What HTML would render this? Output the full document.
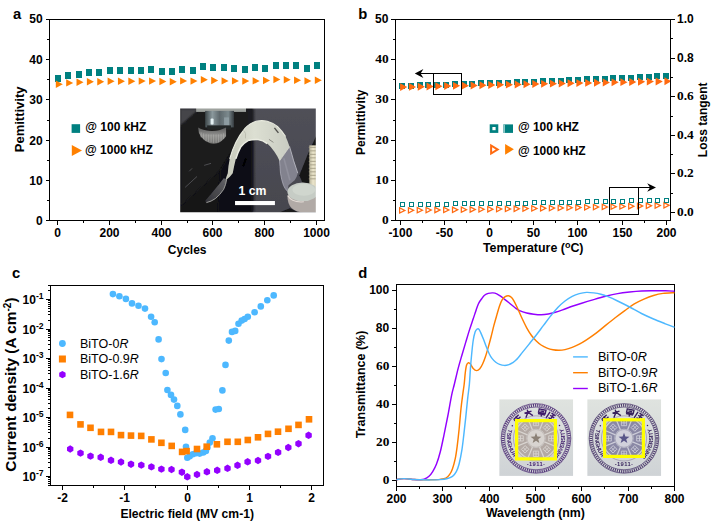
<!DOCTYPE html>
<html><head><meta charset="utf-8"><title>figure</title>
<style>
html,body{margin:0;padding:0;background:#fff;}
body{width:711px;height:531px;overflow:hidden;}
svg{display:block;}
text{font-family:"Liberation Sans",sans-serif;}
</style></head><body>
<svg width="711" height="531" viewBox="0 0 711 531">
<rect x="0" y="0" width="711" height="531" fill="#fff"/>
<rect x="49" y="19" width="276" height="1" fill="#000" shape-rendering="crispEdges"/>
<rect x="49" y="220" width="276" height="1" fill="#000" shape-rendering="crispEdges"/>
<rect x="49" y="19" width="1" height="202" fill="#000" shape-rendering="crispEdges"/>
<rect x="324" y="19" width="1" height="202" fill="#000" shape-rendering="crispEdges"/>
<rect x="46" y="220" width="3" height="1" fill="#000" shape-rendering="crispEdges"/>
<text x="42.70" y="224.70" font-size="12" text-anchor="end" font-weight="bold" fill="#000" >0</text>
<rect x="47" y="200" width="2" height="1" fill="#000" shape-rendering="crispEdges"/>
<rect x="46" y="180" width="3" height="1" fill="#000" shape-rendering="crispEdges"/>
<text x="42.70" y="184.70" font-size="12" text-anchor="end" font-weight="bold" fill="#000" >10</text>
<rect x="47" y="160" width="2" height="1" fill="#000" shape-rendering="crispEdges"/>
<rect x="46" y="140" width="3" height="1" fill="#000" shape-rendering="crispEdges"/>
<text x="42.70" y="144.70" font-size="12" text-anchor="end" font-weight="bold" fill="#000" >20</text>
<rect x="47" y="120" width="2" height="1" fill="#000" shape-rendering="crispEdges"/>
<rect x="46" y="99" width="3" height="1" fill="#000" shape-rendering="crispEdges"/>
<text x="42.70" y="103.70" font-size="12" text-anchor="end" font-weight="bold" fill="#000" >30</text>
<rect x="47" y="79" width="2" height="1" fill="#000" shape-rendering="crispEdges"/>
<rect x="46" y="59" width="3" height="1" fill="#000" shape-rendering="crispEdges"/>
<text x="42.70" y="63.70" font-size="12" text-anchor="end" font-weight="bold" fill="#000" >40</text>
<rect x="47" y="39" width="2" height="1" fill="#000" shape-rendering="crispEdges"/>
<rect x="46" y="19" width="3" height="1" fill="#000" shape-rendering="crispEdges"/>
<text x="42.70" y="22.80" font-size="12" text-anchor="end" font-weight="bold" fill="#000" >50</text>
<rect x="57" y="221" width="1" height="4" fill="#000" shape-rendering="crispEdges"/>
<text x="57.50" y="236.70" font-size="12" text-anchor="middle" font-weight="bold" fill="#000" >0</text>
<rect x="83" y="221" width="1" height="2" fill="#000" shape-rendering="crispEdges"/>
<rect x="109" y="221" width="1" height="4" fill="#000" shape-rendering="crispEdges"/>
<text x="109.50" y="236.70" font-size="12" text-anchor="middle" font-weight="bold" fill="#000" >200</text>
<rect x="135" y="221" width="1" height="2" fill="#000" shape-rendering="crispEdges"/>
<rect x="161" y="221" width="1" height="4" fill="#000" shape-rendering="crispEdges"/>
<text x="161.50" y="236.70" font-size="12" text-anchor="middle" font-weight="bold" fill="#000" >400</text>
<rect x="187" y="221" width="1" height="2" fill="#000" shape-rendering="crispEdges"/>
<rect x="212" y="221" width="1" height="4" fill="#000" shape-rendering="crispEdges"/>
<text x="212.50" y="236.70" font-size="12" text-anchor="middle" font-weight="bold" fill="#000" >600</text>
<rect x="238" y="221" width="1" height="2" fill="#000" shape-rendering="crispEdges"/>
<rect x="264" y="221" width="1" height="4" fill="#000" shape-rendering="crispEdges"/>
<text x="264.50" y="236.70" font-size="12" text-anchor="middle" font-weight="bold" fill="#000" >800</text>
<rect x="290" y="221" width="1" height="2" fill="#000" shape-rendering="crispEdges"/>
<rect x="316" y="221" width="1" height="4" fill="#000" shape-rendering="crispEdges"/>
<text x="316.50" y="236.70" font-size="12" text-anchor="middle" font-weight="bold" fill="#000" >1000</text>
<text x="187.20" y="253.50" font-size="12" text-anchor="middle" font-weight="bold" fill="#000" >Cycles</text>
<text transform="translate(24.30,119.40) rotate(-90)" font-size="13.0" text-anchor="middle" font-weight="bold">Pemittivity</text>
<text x="13.00" y="19.10" font-size="14.8" text-anchor="start" font-weight="bold" fill="#000" >a</text>
<rect x="55" y="75" width="6" height="7" fill="#008080" shape-rendering="crispEdges"/>
<rect x="65" y="72" width="6" height="7" fill="#008080" shape-rendering="crispEdges"/>
<rect x="76" y="71" width="6" height="7" fill="#008080" shape-rendering="crispEdges"/>
<rect x="86" y="69" width="6" height="7" fill="#008080" shape-rendering="crispEdges"/>
<rect x="96" y="69" width="6" height="7" fill="#008080" shape-rendering="crispEdges"/>
<rect x="107" y="67" width="6" height="7" fill="#008080" shape-rendering="crispEdges"/>
<rect x="117" y="67" width="6" height="7" fill="#008080" shape-rendering="crispEdges"/>
<rect x="128" y="67" width="6" height="7" fill="#008080" shape-rendering="crispEdges"/>
<rect x="138" y="67" width="6" height="7" fill="#008080" shape-rendering="crispEdges"/>
<rect x="148" y="66" width="6" height="7" fill="#008080" shape-rendering="crispEdges"/>
<rect x="159" y="68" width="6" height="7" fill="#008080" shape-rendering="crispEdges"/>
<rect x="169" y="68" width="6" height="7" fill="#008080" shape-rendering="crispEdges"/>
<rect x="179" y="66" width="6" height="7" fill="#008080" shape-rendering="crispEdges"/>
<rect x="190" y="67" width="6" height="7" fill="#008080" shape-rendering="crispEdges"/>
<rect x="200" y="63" width="6" height="7" fill="#008080" shape-rendering="crispEdges"/>
<rect x="210" y="64" width="6" height="7" fill="#008080" shape-rendering="crispEdges"/>
<rect x="221" y="64" width="6" height="7" fill="#008080" shape-rendering="crispEdges"/>
<rect x="231" y="65" width="6" height="7" fill="#008080" shape-rendering="crispEdges"/>
<rect x="242" y="66" width="6" height="7" fill="#008080" shape-rendering="crispEdges"/>
<rect x="252" y="64" width="6" height="7" fill="#008080" shape-rendering="crispEdges"/>
<rect x="262" y="65" width="6" height="7" fill="#008080" shape-rendering="crispEdges"/>
<rect x="273" y="62" width="6" height="7" fill="#008080" shape-rendering="crispEdges"/>
<rect x="283" y="62" width="6" height="7" fill="#008080" shape-rendering="crispEdges"/>
<rect x="293" y="62" width="6" height="7" fill="#008080" shape-rendering="crispEdges"/>
<rect x="304" y="65" width="6" height="7" fill="#008080" shape-rendering="crispEdges"/>
<rect x="314" y="62" width="6" height="7" fill="#008080" shape-rendering="crispEdges"/>
<path d="M55.80,80.50 L62.80,84.20 L55.80,87.90 Z" fill="#FF8000"/>
<path d="M66.16,79.20 L73.16,82.90 L66.16,86.60 Z" fill="#FF8000"/>
<path d="M76.52,78.60 L83.52,82.30 L76.52,86.00 Z" fill="#FF8000"/>
<path d="M86.88,78.00 L93.88,81.70 L86.88,85.40 Z" fill="#FF8000"/>
<path d="M97.24,78.00 L104.24,81.70 L97.24,85.40 Z" fill="#FF8000"/>
<path d="M107.60,77.60 L114.60,81.30 L107.60,85.00 Z" fill="#FF8000"/>
<path d="M117.96,77.60 L124.96,81.30 L117.96,85.00 Z" fill="#FF8000"/>
<path d="M128.32,77.60 L135.32,81.30 L128.32,85.00 Z" fill="#FF8000"/>
<path d="M138.68,77.40 L145.68,81.10 L138.68,84.80 Z" fill="#FF8000"/>
<path d="M149.04,77.40 L156.04,81.10 L149.04,84.80 Z" fill="#FF8000"/>
<path d="M159.40,77.80 L166.40,81.50 L159.40,85.20 Z" fill="#FF8000"/>
<path d="M169.76,78.00 L176.76,81.70 L169.76,85.40 Z" fill="#FF8000"/>
<path d="M180.12,77.20 L187.12,80.90 L180.12,84.60 Z" fill="#FF8000"/>
<path d="M190.48,77.40 L197.48,81.10 L190.48,84.80 Z" fill="#FF8000"/>
<path d="M200.84,76.00 L207.84,79.70 L200.84,83.40 Z" fill="#FF8000"/>
<path d="M211.20,76.80 L218.20,80.50 L211.20,84.20 Z" fill="#FF8000"/>
<path d="M221.56,77.20 L228.56,80.90 L221.56,84.60 Z" fill="#FF8000"/>
<path d="M231.92,77.20 L238.92,80.90 L231.92,84.60 Z" fill="#FF8000"/>
<path d="M242.28,77.40 L249.28,81.10 L242.28,84.80 Z" fill="#FF8000"/>
<path d="M252.64,77.20 L259.64,80.90 L252.64,84.60 Z" fill="#FF8000"/>
<path d="M263.00,76.80 L270.00,80.50 L263.00,84.20 Z" fill="#FF8000"/>
<path d="M273.36,75.80 L280.36,79.50 L273.36,83.20 Z" fill="#FF8000"/>
<path d="M283.72,76.00 L290.72,79.70 L283.72,83.40 Z" fill="#FF8000"/>
<path d="M294.08,76.60 L301.08,80.30 L294.08,84.00 Z" fill="#FF8000"/>
<path d="M304.44,77.20 L311.44,80.90 L304.44,84.60 Z" fill="#FF8000"/>
<path d="M314.80,76.60 L321.80,80.30 L314.80,84.00 Z" fill="#FF8000"/>
<rect x="71.6" y="124.2" width="8.5" height="8.7" fill="#008080"/>
<text x="85.30" y="130.70" font-size="12" text-anchor="start" font-weight="bold" fill="#000" >@ 100 kHZ</text>
<path d="M71.80,145.10 L82.00,150.55 L71.80,156.00 Z" fill="#FF8000"/>
<text x="85.00" y="153.90" font-size="12" text-anchor="start" font-weight="bold" fill="#000" >@ 1000 kHZ</text>
<svg x="180.2" y="108.4" width="135.6" height="103.9" viewBox="0 0 136 104" preserveAspectRatio="none">
<defs>
<filter id="b1" x="-20%" y="-20%" width="140%" height="140%"><feGaussianBlur stdDeviation="1"/></filter>
<filter id="b2" x="-20%" y="-20%" width="140%" height="140%"><feGaussianBlur stdDeviation="2.2"/></filter>
<filter id="bG" x="-5%" y="-5%" width="110%" height="110%"><feGaussianBlur stdDeviation="0.45"/></filter>
<filter id="b05" x="-20%" y="-20%" width="140%" height="140%"><feGaussianBlur stdDeviation="0.55"/></filter>
<linearGradient id="gR" x1="0" y1="0" x2="0" y2="1"><stop offset="0" stop-color="#505058"/><stop offset="1" stop-color="#46464e"/></linearGradient>
<linearGradient id="gFilm" x1="0" y1="0" x2="1" y2="0"><stop offset="0" stop-color="#c6c8ba"/><stop offset="0.45" stop-color="#dcdfd2"/><stop offset="1" stop-color="#c9ccc2"/></linearGradient>
<linearGradient id="gScrew" x1="0" y1="0" x2="1" y2="0"><stop offset="0" stop-color="#b8b49c"/><stop offset="0.5" stop-color="#ece6cc"/><stop offset="1" stop-color="#cfc9b0"/></linearGradient>
<linearGradient id="gNut" x1="0" y1="0" x2="1" y2="0"><stop offset="0" stop-color="#3c4448"/><stop offset="0.25" stop-color="#8b999d"/><stop offset="0.5" stop-color="#5e686c"/><stop offset="0.8" stop-color="#7c8a8e"/><stop offset="1" stop-color="#33393c"/></linearGradient>
<linearGradient id="gKnob" x1="0" y1="0" x2="0" y2="1"><stop offset="0" stop-color="#5c5c5c"/><stop offset="0.5" stop-color="#929290"/><stop offset="1" stop-color="#727270"/></linearGradient>
<linearGradient id="gTail" x1="1" y1="0" x2="0" y2="1"><stop offset="0" stop-color="#6c6c70"/><stop offset="1" stop-color="#333338"/></linearGradient>
<clipPath id="cpA"><rect x="0" y="0" width="136" height="104"/></clipPath>
</defs>
<g clip-path="url(#cpA)">
<g filter="url(#bG)">
<rect x="-3" y="-3" width="142" height="110" fill="#161618"/>
<!-- right grey wall -->
<rect x="72.500" y="-3" width="67" height="110" fill="url(#gR)"/>
<rect x="66" y="0" width="8" height="104" fill="#1e1e22" filter="url(#b1)"/>
<!-- upper-left lighter wedge -->
<path d="M0,0 L20,0 L0,18 Z" fill="#44444a" filter="url(#b1)"/>
<!-- black block faces -->
<path d="M0,18 L22,0 L66,0 L66,20 L40,62 L0,98 Z" fill="#1b1b1e" filter="url(#b1)"/>
<path d="M40,62 L66,20 L72,20 L72,104 L38,104 Z" fill="#101012" filter="url(#b1)"/>
<!-- scratches -->
<path d="M5,79 L17,68 M24,57 L31,55 M9,63 L12,60" stroke="#5a5a5e" stroke-width="0.8" filter="url(#b05)"/>
<path d="M63,58 L66,50" stroke="#000" stroke-width="2.2" filter="url(#b05)"/>
<!-- nut + knob upper-left -->
<g filter="url(#b05)">
<rect x="16" y="-1" width="50" height="4.5" fill="#9ea29e"/>
<rect x="25" y="2.500" width="29" height="16.500" fill="url(#gNut)"/>
<rect x="30.5" y="10" width="3" height="6" rx="1" fill="#e4f0f2"/>
<rect x="44" y="9" width="5" height="8" fill="#93a3a7" opacity="0.8"/>
<rect x="27" y="17" width="24" height="4" fill="#222628"/>
<path d="M18,19 Q18,30 30,35 Q40,37 46,28 L46,19 Q38,23 31,22.500 Q22,22 18,19 Z" fill="url(#gKnob)"/>
<path d="M21,24 v5 M23.5,25 v6 M26,25.5 v7 M28.5,26 v7.5 M31,26 v8 M33.5,26 v8.5 M36,26 v8.5 M38.500,26 v8 M41,25.500 v7 M43.500,25 v5.5" stroke="#b4b4b0" stroke-width="0.8" opacity="0.7"/>
</g>
<!-- right dark corner + screw + washer -->
<path d="M137,26 L128,46 L119.500,67 L124,78 L137,78 Z" fill="#151517" filter="url(#b05)"/>
<g filter="url(#b05)">
<rect x="129.500" y="37" width="7.500" height="44" fill="url(#gScrew)"/>
<path d="M129,39 h8 M129,42.500 h8 M129,46 h8 M129,49.500 h8 M129,53 h8 M129,56.500 h8 M129,60 h8 M129,63.500 h8 M129,67 h8 M129,70.500 h8" stroke="#a49e86" stroke-width="0.9"/>
</g>
<!-- translucent right leg -->
<g filter="url(#b05)">
<path d="M109.700,38.300 Q112,46 113.800,52.500 Q116,59 117.900,64.800 Q117,69 114.800,71.900 L108.700,77 L107.700,83.100 Q105,80.500 103.600,77 Q101.500,71 100.600,64.800 Q100.200,58 99.600,52.500 Z" fill="#82828e"/>
<path d="M109.700,38.300 Q112,46 113.800,52.500 Q116,59 117.900,64.800" fill="none" stroke="#b8b8c2" stroke-width="0.9"/>
<path d="M99.600,52.500 Q100.200,58 100.600,64.800 Q101.500,71 103.600,77 Q105,80.500 107.700,83.100" fill="none" stroke="#aaaab6" stroke-width="0.8"/>
<path d="M104,50 L110,72" stroke="#9a9aa6" stroke-width="1.6" opacity="0.6"/>
</g>
<g filter="url(#b05)">
<path d="M107.500,87 Q107.500,104 124,104 L137,104 L137,86 Z" fill="#b1aaa6"/>
<ellipse cx="123" cy="83.500" rx="15.500" ry="9.300" fill="#c6ccc5"/>
<ellipse cx="124" cy="81.500" rx="11.500" ry="6" fill="#d0d6ce"/>
<path d="M108,87.500 Q112,94.500 124,93.500" fill="none" stroke="#e6dfd9" stroke-width="1.1"/>
<path d="M100,104 L110,100 L118,104 Z" fill="#1a1a1c"/>
</g>
<!-- translucent lower-left tail -->
<g filter="url(#b05)">
<path d="M46.600,70.900 Q46,76 43.600,81 Q40,86.500 35.400,90.200 Q31,93.300 26.300,94.300 Q24.800,93.500 25.300,92.200 Q31,86 36.500,79 Q40.500,74 43.600,69.800 Z" fill="url(#gTail)" opacity="0.92"/>
<path d="M46.600,70.900 Q46,76 43.600,81 Q40,86.500 35.400,90.200 Q31,93.300 26.300,94.300" fill="none" stroke="#a9a9a7" stroke-width="0.9"/>
</g>
<!-- film arch : opaque band -->
<g filter="url(#b05)">
<path d="M45.600,70.900 Q46.500,67.500 47.700,64.800 Q48.300,57 49.700,50.500 Q52,42 55.800,34.200 Q59.500,26.500 65,20 Q70,14.800 76.100,12.900 Q82,11.600 87.300,12.900 Q93,14.600 97.500,18 Q102,22.500 105.700,28.100 Q108,33 109.700,38.300 L99.600,52.500 Q97.500,47.500 94.500,43.400 Q91.500,38.800 87.300,35.200 Q83,32 78.200,31.200 Q73,30.800 68,32.200 Q64,34.500 60.900,38.300 Q57.800,44 55.800,50.500 Q54,58 52.700,64.800 Q50,68.500 46.600,71.200 Z" fill="url(#gFilm)"/>
<path d="M49.700,50.500 Q52,42 55.800,34.200 Q59.500,26.500 65,20 Q70,14.800 76.100,12.900 Q82,11.600 87.300,12.900 Q93,14.600 97.500,18 Q102,22.500 105.700,28.100" fill="none" stroke="#e8eade" stroke-width="1.2"/>
<path d="M55.800,50.500 Q57.800,44 60.900,38.300 Q64,34.500 68,32.200 Q73,30.800 78.200,31.200 Q83,32 87.300,35.200" fill="none" stroke="#eaece1" stroke-width="1.5"/>
<path d="M94.500,19.500 L98.500,24.500" stroke="#50504c" stroke-width="1.4"/>
<path d="M89,31 L93.500,34" stroke="#8f8f87" stroke-width="1"/>
<path d="M63.500,22 Q66.500,24 65.500,30" stroke="#b6b8aa" stroke-width="0.8" fill="none"/>
<path d="M99.600,52.500 L109.700,38.300" stroke="#d9dbd0" stroke-width="0.8"/>
</g>
</g>
<!-- scale bar -->
<rect x="55" y="92.700" width="40" height="4.100" fill="#fff"/>
<text x="72.500" y="86.300" font-size="12.300" font-weight="bold" fill="#fff" text-anchor="middle">1 cm</text>
</g>
</svg>
<rect x="395" y="19" width="276" height="1" fill="#000" shape-rendering="crispEdges"/>
<rect x="395" y="220" width="276" height="1" fill="#000" shape-rendering="crispEdges"/>
<rect x="395" y="19" width="1" height="202" fill="#000" shape-rendering="crispEdges"/>
<rect x="670" y="19" width="1" height="202" fill="#000" shape-rendering="crispEdges"/>
<rect x="391" y="220" width="4" height="1" fill="#000" shape-rendering="crispEdges"/>
<text x="388.60" y="224.00" font-size="13.4" text-anchor="end" font-weight="bold" style="font-family:'Liberation Serif',serif">0</text>
<rect x="393" y="200" width="2" height="1" fill="#000" shape-rendering="crispEdges"/>
<rect x="391" y="180" width="4" height="1" fill="#000" shape-rendering="crispEdges"/>
<text x="388.60" y="184.00" font-size="13.4" text-anchor="end" font-weight="bold" style="font-family:'Liberation Serif',serif">10</text>
<rect x="393" y="160" width="2" height="1" fill="#000" shape-rendering="crispEdges"/>
<rect x="391" y="140" width="4" height="1" fill="#000" shape-rendering="crispEdges"/>
<text x="388.60" y="144.00" font-size="13.4" text-anchor="end" font-weight="bold" style="font-family:'Liberation Serif',serif">20</text>
<rect x="393" y="120" width="2" height="1" fill="#000" shape-rendering="crispEdges"/>
<rect x="391" y="99" width="4" height="1" fill="#000" shape-rendering="crispEdges"/>
<text x="388.60" y="103.00" font-size="13.4" text-anchor="end" font-weight="bold" style="font-family:'Liberation Serif',serif">30</text>
<rect x="393" y="79" width="2" height="1" fill="#000" shape-rendering="crispEdges"/>
<rect x="391" y="59" width="4" height="1" fill="#000" shape-rendering="crispEdges"/>
<text x="388.60" y="63.00" font-size="13.4" text-anchor="end" font-weight="bold" style="font-family:'Liberation Serif',serif">40</text>
<rect x="393" y="39" width="2" height="1" fill="#000" shape-rendering="crispEdges"/>
<rect x="391" y="19" width="4" height="1" fill="#000" shape-rendering="crispEdges"/>
<text x="388.40" y="22.80" font-size="12" text-anchor="end" font-weight="bold" fill="#000" >50</text>
<rect x="671" y="212" width="4" height="1" fill="#000" shape-rendering="crispEdges"/>
<text x="677.00" y="216.00" font-size="13.4" text-anchor="start" font-weight="bold" style="font-family:'Liberation Serif',serif">0.0</text>
<rect x="671" y="193" width="2" height="1" fill="#000" shape-rendering="crispEdges"/>
<rect x="671" y="173" width="4" height="1" fill="#000" shape-rendering="crispEdges"/>
<text x="677.00" y="177.00" font-size="13.4" text-anchor="start" font-weight="bold" style="font-family:'Liberation Serif',serif">0.2</text>
<rect x="671" y="154" width="2" height="1" fill="#000" shape-rendering="crispEdges"/>
<rect x="671" y="135" width="4" height="1" fill="#000" shape-rendering="crispEdges"/>
<text x="677.00" y="139.00" font-size="13.4" text-anchor="start" font-weight="bold" style="font-family:'Liberation Serif',serif">0.4</text>
<rect x="671" y="116" width="2" height="1" fill="#000" shape-rendering="crispEdges"/>
<rect x="671" y="96" width="4" height="1" fill="#000" shape-rendering="crispEdges"/>
<text x="677.00" y="100.00" font-size="13.4" text-anchor="start" font-weight="bold" style="font-family:'Liberation Serif',serif">0.6</text>
<rect x="671" y="77" width="2" height="1" fill="#000" shape-rendering="crispEdges"/>
<rect x="671" y="58" width="4" height="1" fill="#000" shape-rendering="crispEdges"/>
<text x="677.00" y="61.80" font-size="12" text-anchor="start" font-weight="bold" fill="#000" >0.8</text>
<rect x="671" y="38" width="2" height="1" fill="#000" shape-rendering="crispEdges"/>
<rect x="671" y="19" width="4" height="1" fill="#000" shape-rendering="crispEdges"/>
<text x="677.00" y="22.80" font-size="12" text-anchor="start" font-weight="bold" fill="#000" >1.0</text>
<rect x="400" y="221" width="1" height="4" fill="#000" shape-rendering="crispEdges"/>
<text x="400.40" y="236.70" font-size="12" text-anchor="middle" font-weight="bold" fill="#000" >-100</text>
<rect x="422" y="221" width="1" height="2" fill="#000" shape-rendering="crispEdges"/>
<rect x="444" y="221" width="1" height="4" fill="#000" shape-rendering="crispEdges"/>
<text x="444.40" y="236.70" font-size="12" text-anchor="middle" font-weight="bold" fill="#000" >-50</text>
<rect x="466" y="221" width="1" height="2" fill="#000" shape-rendering="crispEdges"/>
<rect x="489" y="221" width="1" height="4" fill="#000" shape-rendering="crispEdges"/>
<text x="489.50" y="236.70" font-size="12" text-anchor="middle" font-weight="bold" fill="#000" >0</text>
<rect x="511" y="221" width="1" height="2" fill="#000" shape-rendering="crispEdges"/>
<rect x="533" y="221" width="1" height="4" fill="#000" shape-rendering="crispEdges"/>
<text x="533.50" y="236.70" font-size="12" text-anchor="middle" font-weight="bold" fill="#000" >50</text>
<rect x="555" y="221" width="1" height="2" fill="#000" shape-rendering="crispEdges"/>
<rect x="577" y="221" width="1" height="4" fill="#000" shape-rendering="crispEdges"/>
<text x="577.50" y="236.70" font-size="12" text-anchor="middle" font-weight="bold" fill="#000" >100</text>
<rect x="599" y="221" width="1" height="2" fill="#000" shape-rendering="crispEdges"/>
<rect x="622" y="221" width="1" height="4" fill="#000" shape-rendering="crispEdges"/>
<text x="622.50" y="236.70" font-size="12" text-anchor="middle" font-weight="bold" fill="#000" >150</text>
<rect x="644" y="221" width="1" height="2" fill="#000" shape-rendering="crispEdges"/>
<rect x="666" y="221" width="1" height="4" fill="#000" shape-rendering="crispEdges"/>
<text x="666.50" y="236.70" font-size="12" text-anchor="middle" font-weight="bold" fill="#000" >200</text>
<text x="533.2" y="251.7" font-size="12.45" text-anchor="middle" font-weight="bold">Temperature (<tspan font-size="9" dy="-4.2">o</tspan><tspan dy="4.2">C)</tspan></text>
<text transform="translate(365.00,122.30) rotate(-90)" font-size="12" text-anchor="middle" font-weight="bold">Permittivity</text>
<text transform="translate(707.00,119.80) rotate(-90)" font-size="12" text-anchor="middle" font-weight="bold">Loss tangent</text>
<text x="358.20" y="19.10" font-size="14.8" text-anchor="start" font-weight="bold" fill="#000" >b</text>
<clipPath id="cpB"><rect x="396" y="20" width="274" height="200"/></clipPath><g clip-path="url(#cpB)">
<path d="M399.00,206.75 L406.20,210.40 L399.00,214.05 Z" fill="#FF6A10"/>
<path d="M400.25,208.79 L403.44,210.40 L400.25,212.01 Z" fill="#fff"/>
<rect x="400" y="202" width="5" height="5" fill="#008080" shape-rendering="crispEdges"/>
<rect x="401" y="203" width="3" height="3" fill="#fff" shape-rendering="crispEdges"/>
<path d="M407.81,206.66 L415.01,210.31 L407.81,213.96 Z" fill="#FF6A10"/>
<path d="M409.06,208.69 L412.25,210.31 L409.06,211.92 Z" fill="#fff"/>
<rect x="409" y="202" width="5" height="5" fill="#008080" shape-rendering="crispEdges"/>
<rect x="410" y="203" width="3" height="3" fill="#fff" shape-rendering="crispEdges"/>
<path d="M416.62,206.56 L423.82,210.21 L416.62,213.86 Z" fill="#FF6A10"/>
<path d="M417.87,208.59 L421.06,210.21 L417.87,211.82 Z" fill="#fff"/>
<rect x="418" y="202" width="5" height="5" fill="#008080" shape-rendering="crispEdges"/>
<rect x="419" y="203" width="3" height="3" fill="#fff" shape-rendering="crispEdges"/>
<path d="M425.43,206.46 L432.63,210.11 L425.43,213.76 Z" fill="#FF6A10"/>
<path d="M426.68,208.49 L429.87,210.11 L426.68,211.72 Z" fill="#fff"/>
<rect x="426" y="202" width="5" height="5" fill="#008080" shape-rendering="crispEdges"/>
<rect x="427" y="203" width="3" height="3" fill="#fff" shape-rendering="crispEdges"/>
<path d="M434.24,206.35 L441.44,210.00 L434.24,213.65 Z" fill="#FF6A10"/>
<path d="M435.49,208.38 L438.68,210.00 L435.49,211.61 Z" fill="#fff"/>
<rect x="435" y="202" width="5" height="5" fill="#008080" shape-rendering="crispEdges"/>
<rect x="436" y="203" width="3" height="3" fill="#fff" shape-rendering="crispEdges"/>
<path d="M443.05,206.23 L450.25,209.88 L443.05,213.53 Z" fill="#FF6A10"/>
<path d="M444.30,208.27 L447.49,209.88 L444.30,211.50 Z" fill="#fff"/>
<rect x="444" y="202" width="5" height="5" fill="#008080" shape-rendering="crispEdges"/>
<rect x="445" y="203" width="3" height="3" fill="#fff" shape-rendering="crispEdges"/>
<path d="M451.86,206.11 L459.06,209.76 L451.86,213.41 Z" fill="#FF6A10"/>
<path d="M453.11,208.15 L456.30,209.76 L453.11,211.38 Z" fill="#fff"/>
<rect x="453" y="201" width="5" height="5" fill="#008080" shape-rendering="crispEdges"/>
<rect x="454" y="202" width="3" height="3" fill="#fff" shape-rendering="crispEdges"/>
<path d="M460.67,205.99 L467.87,209.64 L460.67,213.29 Z" fill="#FF6A10"/>
<path d="M461.92,208.02 L465.11,209.64 L461.92,211.25 Z" fill="#fff"/>
<rect x="462" y="201" width="5" height="5" fill="#008080" shape-rendering="crispEdges"/>
<rect x="463" y="202" width="3" height="3" fill="#fff" shape-rendering="crispEdges"/>
<path d="M469.48,205.86 L476.68,209.51 L469.48,213.16 Z" fill="#FF6A10"/>
<path d="M470.73,207.89 L473.92,209.51 L470.73,211.12 Z" fill="#fff"/>
<rect x="470" y="201" width="5" height="5" fill="#008080" shape-rendering="crispEdges"/>
<rect x="471" y="202" width="3" height="3" fill="#fff" shape-rendering="crispEdges"/>
<path d="M478.29,205.72 L485.49,209.37 L478.29,213.02 Z" fill="#FF6A10"/>
<path d="M479.54,207.76 L482.73,209.37 L479.54,210.99 Z" fill="#fff"/>
<rect x="479" y="201" width="5" height="5" fill="#008080" shape-rendering="crispEdges"/>
<rect x="480" y="202" width="3" height="3" fill="#fff" shape-rendering="crispEdges"/>
<path d="M487.10,205.58 L494.30,209.23 L487.10,212.88 Z" fill="#FF6A10"/>
<path d="M488.35,207.62 L491.54,209.23 L488.35,210.84 Z" fill="#fff"/>
<rect x="488" y="201" width="5" height="5" fill="#008080" shape-rendering="crispEdges"/>
<rect x="489" y="202" width="3" height="3" fill="#fff" shape-rendering="crispEdges"/>
<path d="M495.91,205.43 L503.11,209.08 L495.91,212.73 Z" fill="#FF6A10"/>
<path d="M497.16,207.47 L500.35,209.08 L497.16,210.70 Z" fill="#fff"/>
<rect x="497" y="201" width="5" height="5" fill="#008080" shape-rendering="crispEdges"/>
<rect x="498" y="202" width="3" height="3" fill="#fff" shape-rendering="crispEdges"/>
<path d="M504.72,205.28 L511.92,208.93 L504.72,212.58 Z" fill="#FF6A10"/>
<path d="M505.97,207.32 L509.16,208.93 L505.97,210.55 Z" fill="#fff"/>
<rect x="506" y="201" width="5" height="5" fill="#008080" shape-rendering="crispEdges"/>
<rect x="507" y="202" width="3" height="3" fill="#fff" shape-rendering="crispEdges"/>
<path d="M513.53,205.12 L520.73,208.77 L513.53,212.42 Z" fill="#FF6A10"/>
<path d="M514.78,207.16 L517.97,208.77 L514.78,210.39 Z" fill="#fff"/>
<rect x="515" y="201" width="5" height="5" fill="#008080" shape-rendering="crispEdges"/>
<rect x="516" y="202" width="3" height="3" fill="#fff" shape-rendering="crispEdges"/>
<path d="M522.34,204.96 L529.54,208.61 L522.34,212.26 Z" fill="#FF6A10"/>
<path d="M523.59,207.00 L526.78,208.61 L523.59,210.23 Z" fill="#fff"/>
<rect x="523" y="201" width="5" height="5" fill="#008080" shape-rendering="crispEdges"/>
<rect x="524" y="202" width="3" height="3" fill="#fff" shape-rendering="crispEdges"/>
<path d="M531.15,204.79 L538.35,208.44 L531.15,212.09 Z" fill="#FF6A10"/>
<path d="M532.40,206.83 L535.59,208.44 L532.40,210.06 Z" fill="#fff"/>
<rect x="532" y="200" width="5" height="5" fill="#008080" shape-rendering="crispEdges"/>
<rect x="533" y="201" width="3" height="3" fill="#fff" shape-rendering="crispEdges"/>
<path d="M539.96,204.62 L547.16,208.27 L539.96,211.92 Z" fill="#FF6A10"/>
<path d="M541.21,206.65 L544.40,208.27 L541.21,209.88 Z" fill="#fff"/>
<rect x="541" y="200" width="5" height="5" fill="#008080" shape-rendering="crispEdges"/>
<rect x="542" y="201" width="3" height="3" fill="#fff" shape-rendering="crispEdges"/>
<path d="M548.77,204.44 L555.97,208.09 L548.77,211.74 Z" fill="#FF6A10"/>
<path d="M550.02,206.47 L553.21,208.09 L550.02,209.70 Z" fill="#fff"/>
<rect x="550" y="200" width="5" height="5" fill="#008080" shape-rendering="crispEdges"/>
<rect x="551" y="201" width="3" height="3" fill="#fff" shape-rendering="crispEdges"/>
<path d="M557.58,204.26 L564.78,207.91 L557.58,211.56 Z" fill="#FF6A10"/>
<path d="M558.83,206.29 L562.02,207.91 L558.83,209.52 Z" fill="#fff"/>
<rect x="559" y="200" width="5" height="5" fill="#008080" shape-rendering="crispEdges"/>
<rect x="560" y="201" width="3" height="3" fill="#fff" shape-rendering="crispEdges"/>
<path d="M566.39,204.07 L573.59,207.72 L566.39,211.37 Z" fill="#FF6A10"/>
<path d="M567.64,206.10 L570.83,207.72 L567.64,209.33 Z" fill="#fff"/>
<rect x="567" y="200" width="5" height="5" fill="#008080" shape-rendering="crispEdges"/>
<rect x="568" y="201" width="3" height="3" fill="#fff" shape-rendering="crispEdges"/>
<path d="M575.20,203.87 L582.40,207.52 L575.20,211.17 Z" fill="#FF6A10"/>
<path d="M576.45,205.91 L579.64,207.52 L576.45,209.13 Z" fill="#fff"/>
<rect x="576" y="200" width="5" height="5" fill="#008080" shape-rendering="crispEdges"/>
<rect x="577" y="201" width="3" height="3" fill="#fff" shape-rendering="crispEdges"/>
<path d="M584.01,203.67 L591.21,207.32 L584.01,210.97 Z" fill="#FF6A10"/>
<path d="M585.26,205.70 L588.45,207.32 L585.26,208.93 Z" fill="#fff"/>
<rect x="585" y="199" width="5" height="5" fill="#008080" shape-rendering="crispEdges"/>
<rect x="586" y="200" width="3" height="3" fill="#fff" shape-rendering="crispEdges"/>
<path d="M592.82,203.46 L600.02,207.11 L592.82,210.76 Z" fill="#FF6A10"/>
<path d="M594.07,205.50 L597.26,207.11 L594.07,208.73 Z" fill="#fff"/>
<rect x="594" y="199" width="5" height="5" fill="#008080" shape-rendering="crispEdges"/>
<rect x="595" y="200" width="3" height="3" fill="#fff" shape-rendering="crispEdges"/>
<path d="M601.63,203.25 L608.83,206.90 L601.63,210.55 Z" fill="#FF6A10"/>
<path d="M602.88,205.29 L606.07,206.90 L602.88,208.52 Z" fill="#fff"/>
<rect x="603" y="199" width="5" height="5" fill="#008080" shape-rendering="crispEdges"/>
<rect x="604" y="200" width="3" height="3" fill="#fff" shape-rendering="crispEdges"/>
<path d="M610.44,203.03 L617.64,206.68 L610.44,210.33 Z" fill="#FF6A10"/>
<path d="M611.69,205.07 L614.88,206.68 L611.69,208.30 Z" fill="#fff"/>
<rect x="611" y="199" width="5" height="5" fill="#008080" shape-rendering="crispEdges"/>
<rect x="612" y="200" width="3" height="3" fill="#fff" shape-rendering="crispEdges"/>
<path d="M619.25,202.81 L626.45,206.46 L619.25,210.11 Z" fill="#FF6A10"/>
<path d="M620.50,204.85 L623.69,206.46 L620.50,208.08 Z" fill="#fff"/>
<rect x="620" y="199" width="5" height="5" fill="#008080" shape-rendering="crispEdges"/>
<rect x="621" y="200" width="3" height="3" fill="#fff" shape-rendering="crispEdges"/>
<path d="M628.06,202.58 L635.26,206.23 L628.06,209.88 Z" fill="#FF6A10"/>
<path d="M629.31,204.62 L632.50,206.23 L629.31,207.85 Z" fill="#fff"/>
<rect x="629" y="198" width="5" height="5" fill="#008080" shape-rendering="crispEdges"/>
<rect x="630" y="199" width="3" height="3" fill="#fff" shape-rendering="crispEdges"/>
<path d="M636.87,202.35 L644.07,206.00 L636.87,209.65 Z" fill="#FF6A10"/>
<path d="M638.12,204.39 L641.31,206.00 L638.12,207.62 Z" fill="#fff"/>
<rect x="638" y="198" width="5" height="5" fill="#008080" shape-rendering="crispEdges"/>
<rect x="639" y="199" width="3" height="3" fill="#fff" shape-rendering="crispEdges"/>
<path d="M645.68,202.11 L652.88,205.76 L645.68,209.41 Z" fill="#FF6A10"/>
<path d="M646.93,204.15 L650.12,205.76 L646.93,207.38 Z" fill="#fff"/>
<rect x="647" y="198" width="5" height="5" fill="#008080" shape-rendering="crispEdges"/>
<rect x="648" y="199" width="3" height="3" fill="#fff" shape-rendering="crispEdges"/>
<path d="M654.49,201.87 L661.69,205.52 L654.49,209.17 Z" fill="#FF6A10"/>
<path d="M655.74,203.90 L658.93,205.52 L655.74,207.13 Z" fill="#fff"/>
<rect x="655" y="198" width="5" height="5" fill="#008080" shape-rendering="crispEdges"/>
<rect x="656" y="199" width="3" height="3" fill="#fff" shape-rendering="crispEdges"/>
<path d="M663.30,201.62 L670.50,205.27 L663.30,208.92 Z" fill="#FF6A10"/>
<path d="M664.55,203.66 L667.74,205.27 L664.55,206.88 Z" fill="#fff"/>
<rect x="664" y="198" width="5" height="5" fill="#008080" shape-rendering="crispEdges"/>
<rect x="665" y="199" width="3" height="3" fill="#fff" shape-rendering="crispEdges"/>
<rect x="399" y="83" width="6" height="6" fill="#008080" shape-rendering="crispEdges"/>
<rect x="408" y="83" width="6" height="6" fill="#008080" shape-rendering="crispEdges"/>
<rect x="417" y="82" width="6" height="6" fill="#008080" shape-rendering="crispEdges"/>
<rect x="425" y="82" width="6" height="6" fill="#008080" shape-rendering="crispEdges"/>
<rect x="434" y="82" width="6" height="6" fill="#008080" shape-rendering="crispEdges"/>
<rect x="443" y="82" width="6" height="6" fill="#008080" shape-rendering="crispEdges"/>
<rect x="452" y="81" width="6" height="6" fill="#008080" shape-rendering="crispEdges"/>
<rect x="461" y="81" width="6" height="6" fill="#008080" shape-rendering="crispEdges"/>
<rect x="469" y="81" width="6" height="6" fill="#008080" shape-rendering="crispEdges"/>
<rect x="478" y="80" width="6" height="6" fill="#008080" shape-rendering="crispEdges"/>
<rect x="487" y="80" width="6" height="6" fill="#008080" shape-rendering="crispEdges"/>
<rect x="496" y="80" width="6" height="6" fill="#008080" shape-rendering="crispEdges"/>
<rect x="505" y="80" width="6" height="6" fill="#008080" shape-rendering="crispEdges"/>
<rect x="514" y="79" width="6" height="6" fill="#008080" shape-rendering="crispEdges"/>
<rect x="522" y="79" width="6" height="6" fill="#008080" shape-rendering="crispEdges"/>
<rect x="531" y="79" width="6" height="6" fill="#008080" shape-rendering="crispEdges"/>
<rect x="540" y="78" width="6" height="6" fill="#008080" shape-rendering="crispEdges"/>
<rect x="549" y="78" width="6" height="6" fill="#008080" shape-rendering="crispEdges"/>
<rect x="558" y="78" width="6" height="6" fill="#008080" shape-rendering="crispEdges"/>
<rect x="566" y="77" width="6" height="6" fill="#008080" shape-rendering="crispEdges"/>
<rect x="575" y="77" width="6" height="6" fill="#008080" shape-rendering="crispEdges"/>
<rect x="584" y="76" width="6" height="6" fill="#008080" shape-rendering="crispEdges"/>
<rect x="593" y="76" width="6" height="6" fill="#008080" shape-rendering="crispEdges"/>
<rect x="602" y="76" width="6" height="6" fill="#008080" shape-rendering="crispEdges"/>
<rect x="610" y="75" width="6" height="6" fill="#008080" shape-rendering="crispEdges"/>
<rect x="619" y="75" width="6" height="6" fill="#008080" shape-rendering="crispEdges"/>
<rect x="628" y="75" width="6" height="6" fill="#008080" shape-rendering="crispEdges"/>
<rect x="637" y="74" width="6" height="6" fill="#008080" shape-rendering="crispEdges"/>
<rect x="646" y="74" width="6" height="6" fill="#008080" shape-rendering="crispEdges"/>
<rect x="654" y="73" width="6" height="6" fill="#008080" shape-rendering="crispEdges"/>
<rect x="663" y="73" width="6" height="6" fill="#008080" shape-rendering="crispEdges"/>
<path d="M400.15,83.15 L407.25,87.10 L400.15,91.05 Z" fill="#FF6A10"/>
<path d="M408.96,82.94 L416.06,86.89 L408.96,90.84 Z" fill="#FF6A10"/>
<path d="M417.77,82.73 L424.87,86.68 L417.77,90.63 Z" fill="#FF6A10"/>
<path d="M426.58,82.52 L433.68,86.47 L426.58,90.42 Z" fill="#FF6A10"/>
<path d="M435.39,82.32 L442.49,86.27 L435.39,90.22 Z" fill="#FF6A10"/>
<path d="M444.20,82.11 L451.30,86.06 L444.20,90.01 Z" fill="#FF6A10"/>
<path d="M453.01,81.91 L460.11,85.86 L453.01,89.81 Z" fill="#FF6A10"/>
<path d="M461.82,81.70 L468.92,85.65 L461.82,89.60 Z" fill="#FF6A10"/>
<path d="M470.63,81.50 L477.73,85.45 L470.63,89.40 Z" fill="#FF6A10"/>
<path d="M479.44,81.30 L486.54,85.25 L479.44,89.20 Z" fill="#FF6A10"/>
<path d="M488.25,81.10 L495.35,85.05 L488.25,89.00 Z" fill="#FF6A10"/>
<path d="M497.06,80.90 L504.16,84.85 L497.06,88.80 Z" fill="#FF6A10"/>
<path d="M505.87,80.70 L512.97,84.65 L505.87,88.60 Z" fill="#FF6A10"/>
<path d="M514.68,80.50 L521.78,84.45 L514.68,88.40 Z" fill="#FF6A10"/>
<path d="M523.49,80.31 L530.59,84.26 L523.49,88.21 Z" fill="#FF6A10"/>
<path d="M532.30,80.11 L539.40,84.06 L532.30,88.01 Z" fill="#FF6A10"/>
<path d="M541.11,79.92 L548.21,83.87 L541.11,87.82 Z" fill="#FF6A10"/>
<path d="M549.92,79.72 L557.02,83.67 L549.92,87.62 Z" fill="#FF6A10"/>
<path d="M558.73,79.53 L565.83,83.48 L558.73,87.43 Z" fill="#FF6A10"/>
<path d="M567.54,79.34 L574.64,83.29 L567.54,87.24 Z" fill="#FF6A10"/>
<path d="M576.35,79.15 L583.45,83.10 L576.35,87.05 Z" fill="#FF6A10"/>
<path d="M585.16,78.96 L592.26,82.91 L585.16,86.86 Z" fill="#FF6A10"/>
<path d="M593.97,78.77 L601.07,82.72 L593.97,86.67 Z" fill="#FF6A10"/>
<path d="M602.78,78.58 L609.88,82.53 L602.78,86.48 Z" fill="#FF6A10"/>
<path d="M611.59,78.40 L618.69,82.35 L611.59,86.30 Z" fill="#FF6A10"/>
<path d="M620.40,78.21 L627.50,82.16 L620.40,86.11 Z" fill="#FF6A10"/>
<path d="M629.21,78.03 L636.31,81.98 L629.21,85.93 Z" fill="#FF6A10"/>
<path d="M638.02,77.84 L645.12,81.79 L638.02,85.74 Z" fill="#FF6A10"/>
<path d="M646.83,77.66 L653.93,81.61 L646.83,85.56 Z" fill="#FF6A10"/>
<path d="M655.64,77.48 L662.74,81.43 L655.64,85.38 Z" fill="#FF6A10"/>
<path d="M664.45,77.30 L671.55,81.25 L664.45,85.20 Z" fill="#FF6A10"/>
</g>
<rect x="433" y="73" width="29" height="1" fill="#000" shape-rendering="crispEdges"/>
<rect x="433" y="94" width="29" height="1" fill="#000" shape-rendering="crispEdges"/>
<rect x="433" y="73" width="1" height="22" fill="#000" shape-rendering="crispEdges"/>
<rect x="461" y="73" width="1" height="22" fill="#000" shape-rendering="crispEdges"/>
<rect x="419" y="73" width="14" height="1" fill="#000" shape-rendering="crispEdges"/>
<path d="M414.8,73.5 L423.4,69.1 L420.6,73.5 L423.4,77.9 Z" fill="#000"/>
<rect x="609" y="187" width="30" height="1" fill="#000" shape-rendering="crispEdges"/>
<rect x="609" y="214" width="30" height="1" fill="#000" shape-rendering="crispEdges"/>
<rect x="609" y="187" width="1" height="28" fill="#000" shape-rendering="crispEdges"/>
<rect x="638" y="187" width="1" height="28" fill="#000" shape-rendering="crispEdges"/>
<rect x="639" y="187" width="12" height="1" fill="#000" shape-rendering="crispEdges"/>
<path d="M656.0,187.5 L647.2,183.3 L650.0,187.5 L647.2,191.7 Z" fill="#000"/>
<rect x="489.70" y="124.30" width="8.6" height="8.6" fill="#008080"/>
<rect x="492.40" y="127.00" width="3.20" height="3.20" fill="#fff"/>
<rect x="503.4" y="124.4" width="9.6" height="8.5" fill="#008080"/>
<rect x="503.4" y="124.4" width="1.6" height="8.5" fill="#8cc7c7"/>
<text x="517.90" y="130.60" font-size="12" text-anchor="start" font-weight="bold" fill="#000" >@ 100 kHZ</text>
<path d="M490.10,143.80 L499.60,149.55 L490.10,155.30 Z" fill="#FF6A10"/>
<path d="M492.10,147.35 L495.74,149.55 L492.10,151.75 Z" fill="#fff"/>
<path d="M505.10,143.90 L513.90,149.30 L505.10,154.70 Z" fill="#FF8000"/>
<text x="517.90" y="154.80" font-size="12" text-anchor="start" font-weight="bold" fill="#000" >@ 1000 kHZ</text>
<rect x="50" y="285" width="274" height="1" fill="#000" shape-rendering="crispEdges"/>
<rect x="50" y="485" width="274" height="1" fill="#000" shape-rendering="crispEdges"/>
<rect x="50" y="285" width="1" height="201" fill="#000" shape-rendering="crispEdges"/>
<rect x="323" y="285" width="1" height="201" fill="#000" shape-rendering="crispEdges"/>
<rect x="48" y="285" width="2" height="1" fill="#000" shape-rendering="crispEdges"/>
<rect x="48" y="485" width="2" height="1" fill="#000" shape-rendering="crispEdges"/>
<rect x="48" y="483" width="2" height="1" fill="#000" shape-rendering="crispEdges"/>
<rect x="48" y="481" width="2" height="1" fill="#000" shape-rendering="crispEdges"/>
<rect x="48" y="479" width="2" height="1" fill="#000" shape-rendering="crispEdges"/>
<rect x="48" y="477" width="2" height="1" fill="#000" shape-rendering="crispEdges"/>
<rect x="46" y="476" width="4" height="1" fill="#000" shape-rendering="crispEdges"/>
<text x="22.6" y="480.80" font-size="12" text-anchor="start" font-weight="bold">10<tspan font-size="8.6" dy="-4.6">-7</tspan></text>
<rect x="48" y="467" width="2" height="1" fill="#000" shape-rendering="crispEdges"/>
<rect x="48" y="462" width="2" height="1" fill="#000" shape-rendering="crispEdges"/>
<rect x="48" y="458" width="2" height="1" fill="#000" shape-rendering="crispEdges"/>
<rect x="48" y="455" width="2" height="1" fill="#000" shape-rendering="crispEdges"/>
<rect x="48" y="453" width="2" height="1" fill="#000" shape-rendering="crispEdges"/>
<rect x="48" y="451" width="2" height="1" fill="#000" shape-rendering="crispEdges"/>
<rect x="48" y="449" width="2" height="1" fill="#000" shape-rendering="crispEdges"/>
<rect x="48" y="448" width="2" height="1" fill="#000" shape-rendering="crispEdges"/>
<rect x="46" y="447" width="4" height="1" fill="#000" shape-rendering="crispEdges"/>
<text x="22.6" y="451.80" font-size="12" text-anchor="start" font-weight="bold">10<tspan font-size="8.6" dy="-4.6">-6</tspan></text>
<rect x="48" y="438" width="2" height="1" fill="#000" shape-rendering="crispEdges"/>
<rect x="48" y="432" width="2" height="1" fill="#000" shape-rendering="crispEdges"/>
<rect x="48" y="429" width="2" height="1" fill="#000" shape-rendering="crispEdges"/>
<rect x="48" y="426" width="2" height="1" fill="#000" shape-rendering="crispEdges"/>
<rect x="48" y="424" width="2" height="1" fill="#000" shape-rendering="crispEdges"/>
<rect x="48" y="422" width="2" height="1" fill="#000" shape-rendering="crispEdges"/>
<rect x="48" y="420" width="2" height="1" fill="#000" shape-rendering="crispEdges"/>
<rect x="48" y="418" width="2" height="1" fill="#000" shape-rendering="crispEdges"/>
<rect x="46" y="417" width="4" height="1" fill="#000" shape-rendering="crispEdges"/>
<text x="22.6" y="421.80" font-size="12" text-anchor="start" font-weight="bold">10<tspan font-size="8.6" dy="-4.6">-5</tspan></text>
<rect x="48" y="408" width="2" height="1" fill="#000" shape-rendering="crispEdges"/>
<rect x="48" y="403" width="2" height="1" fill="#000" shape-rendering="crispEdges"/>
<rect x="48" y="399" width="2" height="1" fill="#000" shape-rendering="crispEdges"/>
<rect x="48" y="396" width="2" height="1" fill="#000" shape-rendering="crispEdges"/>
<rect x="48" y="394" width="2" height="1" fill="#000" shape-rendering="crispEdges"/>
<rect x="48" y="392" width="2" height="1" fill="#000" shape-rendering="crispEdges"/>
<rect x="48" y="390" width="2" height="1" fill="#000" shape-rendering="crispEdges"/>
<rect x="48" y="389" width="2" height="1" fill="#000" shape-rendering="crispEdges"/>
<rect x="46" y="388" width="4" height="1" fill="#000" shape-rendering="crispEdges"/>
<text x="22.6" y="392.80" font-size="12" text-anchor="start" font-weight="bold">10<tspan font-size="8.6" dy="-4.6">-4</tspan></text>
<rect x="48" y="379" width="2" height="1" fill="#000" shape-rendering="crispEdges"/>
<rect x="48" y="373" width="2" height="1" fill="#000" shape-rendering="crispEdges"/>
<rect x="48" y="370" width="2" height="1" fill="#000" shape-rendering="crispEdges"/>
<rect x="48" y="367" width="2" height="1" fill="#000" shape-rendering="crispEdges"/>
<rect x="48" y="365" width="2" height="1" fill="#000" shape-rendering="crispEdges"/>
<rect x="48" y="363" width="2" height="1" fill="#000" shape-rendering="crispEdges"/>
<rect x="48" y="361" width="2" height="1" fill="#000" shape-rendering="crispEdges"/>
<rect x="48" y="359" width="2" height="1" fill="#000" shape-rendering="crispEdges"/>
<rect x="46" y="358" width="4" height="1" fill="#000" shape-rendering="crispEdges"/>
<text x="22.6" y="362.80" font-size="12" text-anchor="start" font-weight="bold">10<tspan font-size="8.6" dy="-4.6">-3</tspan></text>
<rect x="48" y="349" width="2" height="1" fill="#000" shape-rendering="crispEdges"/>
<rect x="48" y="344" width="2" height="1" fill="#000" shape-rendering="crispEdges"/>
<rect x="48" y="340" width="2" height="1" fill="#000" shape-rendering="crispEdges"/>
<rect x="48" y="337" width="2" height="1" fill="#000" shape-rendering="crispEdges"/>
<rect x="48" y="335" width="2" height="1" fill="#000" shape-rendering="crispEdges"/>
<rect x="48" y="333" width="2" height="1" fill="#000" shape-rendering="crispEdges"/>
<rect x="48" y="331" width="2" height="1" fill="#000" shape-rendering="crispEdges"/>
<rect x="48" y="330" width="2" height="1" fill="#000" shape-rendering="crispEdges"/>
<rect x="46" y="329" width="4" height="1" fill="#000" shape-rendering="crispEdges"/>
<text x="22.6" y="333.80" font-size="12" text-anchor="start" font-weight="bold">10<tspan font-size="8.6" dy="-4.6">-2</tspan></text>
<rect x="48" y="320" width="2" height="1" fill="#000" shape-rendering="crispEdges"/>
<rect x="48" y="314" width="2" height="1" fill="#000" shape-rendering="crispEdges"/>
<rect x="48" y="311" width="2" height="1" fill="#000" shape-rendering="crispEdges"/>
<rect x="48" y="308" width="2" height="1" fill="#000" shape-rendering="crispEdges"/>
<rect x="48" y="306" width="2" height="1" fill="#000" shape-rendering="crispEdges"/>
<rect x="48" y="304" width="2" height="1" fill="#000" shape-rendering="crispEdges"/>
<rect x="48" y="302" width="2" height="1" fill="#000" shape-rendering="crispEdges"/>
<rect x="48" y="300" width="2" height="1" fill="#000" shape-rendering="crispEdges"/>
<rect x="46" y="299" width="4" height="1" fill="#000" shape-rendering="crispEdges"/>
<text x="22.6" y="303.80" font-size="12" text-anchor="start" font-weight="bold">10<tspan font-size="8.6" dy="-4.6">-1</tspan></text>
<rect x="48" y="290" width="2" height="1" fill="#000" shape-rendering="crispEdges"/>
<rect x="62" y="486" width="1" height="4" fill="#000" shape-rendering="crispEdges"/>
<text x="62.70" y="502.30" font-size="12" text-anchor="middle" font-weight="bold" fill="#000" >-2</text>
<rect x="93" y="486" width="1" height="2" fill="#000" shape-rendering="crispEdges"/>
<rect x="124" y="486" width="1" height="4" fill="#000" shape-rendering="crispEdges"/>
<text x="124.70" y="502.30" font-size="12" text-anchor="middle" font-weight="bold" fill="#000" >-1</text>
<rect x="155" y="486" width="1" height="2" fill="#000" shape-rendering="crispEdges"/>
<rect x="187" y="486" width="1" height="4" fill="#000" shape-rendering="crispEdges"/>
<text x="187.50" y="502.30" font-size="12" text-anchor="middle" font-weight="bold" fill="#000" >0</text>
<rect x="218" y="486" width="1" height="2" fill="#000" shape-rendering="crispEdges"/>
<rect x="249" y="486" width="1" height="4" fill="#000" shape-rendering="crispEdges"/>
<text x="249.50" y="502.30" font-size="12" text-anchor="middle" font-weight="bold" fill="#000" >1</text>
<rect x="280" y="486" width="1" height="2" fill="#000" shape-rendering="crispEdges"/>
<rect x="311" y="486" width="1" height="4" fill="#000" shape-rendering="crispEdges"/>
<text x="311.50" y="502.30" font-size="12" text-anchor="middle" font-weight="bold" fill="#000" >2</text>
<text x="187.20" y="517.50" font-size="12.15" text-anchor="middle" font-weight="bold" fill="#000" >Electric field (MV cm-1)</text>
<text transform="translate(16.2,384.6) rotate(-90)" font-size="15.4" text-anchor="middle" font-weight="bold">Current density (A cm<tspan font-size="10" dy="-5.5">-2</tspan><tspan dy="5.5">)</tspan></text>
<text x="12.10" y="278.10" font-size="14.8" text-anchor="start" font-weight="bold" fill="#000" >c</text>
<circle cx="112.90" cy="294.10" r="3.3" fill="#4DB8FF"/>
<circle cx="119.40" cy="296.30" r="3.3" fill="#4DB8FF"/>
<circle cx="125.90" cy="298.90" r="3.3" fill="#4DB8FF"/>
<circle cx="132.00" cy="303.40" r="3.3" fill="#4DB8FF"/>
<circle cx="138.50" cy="305.70" r="3.3" fill="#4DB8FF"/>
<circle cx="145.00" cy="308.60" r="3.3" fill="#4DB8FF"/>
<circle cx="151.10" cy="316.70" r="3.3" fill="#4DB8FF"/>
<circle cx="154.70" cy="322.20" r="3.3" fill="#4DB8FF"/>
<circle cx="158.60" cy="339.40" r="3.3" fill="#4DB8FF"/>
<circle cx="161.50" cy="359.10" r="3.3" fill="#4DB8FF"/>
<circle cx="165.70" cy="373.00" r="3.3" fill="#4DB8FF"/>
<circle cx="167.40" cy="390.00" r="3.3" fill="#4DB8FF"/>
<circle cx="171.00" cy="394.90" r="3.3" fill="#4DB8FF"/>
<circle cx="174.00" cy="399.60" r="3.3" fill="#4DB8FF"/>
<circle cx="177.30" cy="405.90" r="3.3" fill="#4DB8FF"/>
<circle cx="180.40" cy="414.40" r="3.3" fill="#4DB8FF"/>
<circle cx="185.20" cy="429.90" r="3.3" fill="#4DB8FF"/>
<circle cx="186.00" cy="446.70" r="3.3" fill="#4DB8FF"/>
<circle cx="187.30" cy="457.70" r="3.3" fill="#4DB8FF"/>
<circle cx="189.70" cy="456.30" r="3.3" fill="#4DB8FF"/>
<circle cx="192.80" cy="454.20" r="3.3" fill="#4DB8FF"/>
<circle cx="196.00" cy="453.20" r="3.3" fill="#4DB8FF"/>
<circle cx="199.70" cy="453.60" r="3.3" fill="#4DB8FF"/>
<circle cx="203.20" cy="452.50" r="3.3" fill="#4DB8FF"/>
<circle cx="205.90" cy="450.90" r="3.3" fill="#4DB8FF"/>
<circle cx="207.40" cy="447.40" r="3.3" fill="#4DB8FF"/>
<circle cx="209.80" cy="442.60" r="3.3" fill="#4DB8FF"/>
<circle cx="212.50" cy="438.20" r="3.3" fill="#4DB8FF"/>
<circle cx="215.60" cy="409.60" r="3.3" fill="#4DB8FF"/>
<circle cx="218.80" cy="409.00" r="3.3" fill="#4DB8FF"/>
<circle cx="222.40" cy="390.40" r="3.3" fill="#4DB8FF"/>
<circle cx="225.50" cy="364.90" r="3.3" fill="#4DB8FF"/>
<circle cx="228.80" cy="340.60" r="3.3" fill="#4DB8FF"/>
<circle cx="232.00" cy="331.90" r="3.3" fill="#4DB8FF"/>
<circle cx="235.20" cy="330.90" r="3.3" fill="#4DB8FF"/>
<circle cx="238.50" cy="323.80" r="3.3" fill="#4DB8FF"/>
<circle cx="241.70" cy="320.60" r="3.3" fill="#4DB8FF"/>
<circle cx="244.60" cy="319.00" r="3.3" fill="#4DB8FF"/>
<circle cx="247.80" cy="316.70" r="3.3" fill="#4DB8FF"/>
<circle cx="254.60" cy="312.20" r="3.3" fill="#4DB8FF"/>
<circle cx="260.80" cy="306.40" r="3.3" fill="#4DB8FF"/>
<circle cx="267.30" cy="300.20" r="3.3" fill="#4DB8FF"/>
<circle cx="273.70" cy="295.40" r="3.3" fill="#4DB8FF"/>
<rect x="66.70" y="411.60" width="6.6" height="6.6" fill="#FF7F00"/>
<rect x="77.20" y="421.10" width="6.6" height="6.6" fill="#FF7F00"/>
<rect x="87.20" y="424.50" width="6.6" height="6.6" fill="#FF7F00"/>
<rect x="97.70" y="428.60" width="6.6" height="6.6" fill="#FF7F00"/>
<rect x="107.70" y="428.60" width="6.6" height="6.6" fill="#FF7F00"/>
<rect x="117.70" y="431.80" width="6.6" height="6.6" fill="#FF7F00"/>
<rect x="127.70" y="432.30" width="6.6" height="6.6" fill="#FF7F00"/>
<rect x="137.90" y="432.60" width="6.6" height="6.6" fill="#FF7F00"/>
<rect x="148.10" y="436.10" width="6.6" height="6.6" fill="#FF7F00"/>
<rect x="158.10" y="439.50" width="6.6" height="6.6" fill="#FF7F00"/>
<rect x="168.40" y="442.60" width="6.6" height="6.6" fill="#FF7F00"/>
<rect x="178.80" y="448.60" width="6.6" height="6.6" fill="#FF7F00"/>
<rect x="183.30" y="447.80" width="6.6" height="6.6" fill="#FF7F00"/>
<rect x="193.70" y="445.70" width="6.6" height="6.6" fill="#FF7F00"/>
<rect x="203.40" y="443.40" width="6.6" height="6.6" fill="#FF7F00"/>
<rect x="213.60" y="441.00" width="6.6" height="6.6" fill="#FF7F00"/>
<rect x="224.20" y="438.50" width="6.6" height="6.6" fill="#FF7F00"/>
<rect x="234.50" y="438.50" width="6.6" height="6.6" fill="#FF7F00"/>
<rect x="244.50" y="436.70" width="6.6" height="6.6" fill="#FF7F00"/>
<rect x="254.70" y="434.00" width="6.6" height="6.6" fill="#FF7F00"/>
<rect x="264.70" y="430.60" width="6.6" height="6.6" fill="#FF7F00"/>
<rect x="274.70" y="428.40" width="6.6" height="6.6" fill="#FF7F00"/>
<rect x="285.20" y="425.50" width="6.6" height="6.6" fill="#FF7F00"/>
<rect x="295.20" y="421.60" width="6.6" height="6.6" fill="#FF7F00"/>
<rect x="305.70" y="416.00" width="6.6" height="6.6" fill="#FF7F00"/>
<polygon points="70.20,445.30 67.00,447.15 67.00,450.85 70.20,452.70 73.40,450.85 73.40,447.15" fill="#9400FF"/>
<polygon points="80.50,449.40 77.30,451.25 77.30,454.95 80.50,456.80 83.70,454.95 83.70,451.25" fill="#9400FF"/>
<polygon points="90.50,452.40 87.30,454.25 87.30,457.95 90.50,459.80 93.70,457.95 93.70,454.25" fill="#9400FF"/>
<polygon points="100.70,453.60 97.50,455.45 97.50,459.15 100.70,461.00 103.90,459.15 103.90,455.45" fill="#9400FF"/>
<polygon points="111.00,456.60 107.80,458.45 107.80,462.15 111.00,464.00 114.20,462.15 114.20,458.45" fill="#9400FF"/>
<polygon points="121.00,458.30 117.80,460.15 117.80,463.85 121.00,465.70 124.20,463.85 124.20,460.15" fill="#9400FF"/>
<polygon points="131.00,460.50 127.80,462.35 127.80,466.05 131.00,467.90 134.20,466.05 134.20,462.35" fill="#9400FF"/>
<polygon points="141.30,461.40 138.10,463.25 138.10,466.95 141.30,468.80 144.50,466.95 144.50,463.25" fill="#9400FF"/>
<polygon points="151.40,463.20 148.20,465.05 148.20,468.75 151.40,470.60 154.60,468.75 154.60,465.05" fill="#9400FF"/>
<polygon points="161.40,465.40 158.20,467.25 158.20,470.95 161.40,472.80 164.60,470.95 164.60,467.25" fill="#9400FF"/>
<polygon points="171.50,465.80 168.30,467.65 168.30,471.35 171.50,473.20 174.70,471.35 174.70,467.65" fill="#9400FF"/>
<polygon points="181.90,468.50 178.70,470.35 178.70,474.05 181.90,475.90 185.10,474.05 185.10,470.35" fill="#9400FF"/>
<polygon points="187.30,473.10 184.10,474.95 184.10,478.65 187.30,480.50 190.50,478.65 190.50,474.95" fill="#9400FF"/>
<polygon points="197.00,470.80 193.80,472.65 193.80,476.35 197.00,478.20 200.20,476.35 200.20,472.65" fill="#9400FF"/>
<polygon points="206.90,468.10 203.70,469.95 203.70,473.65 206.90,475.50 210.10,473.65 210.10,469.95" fill="#9400FF"/>
<polygon points="217.20,466.60 214.00,468.45 214.00,472.15 217.20,474.00 220.40,472.15 220.40,468.45" fill="#9400FF"/>
<polygon points="227.50,464.60 224.30,466.45 224.30,470.15 227.50,472.00 230.70,470.15 230.70,466.45" fill="#9400FF"/>
<polygon points="237.50,461.60 234.30,463.45 234.30,467.15 237.50,469.00 240.70,467.15 240.70,463.45" fill="#9400FF"/>
<polygon points="247.60,458.10 244.40,459.95 244.40,463.65 247.60,465.50 250.80,463.65 250.80,459.95" fill="#9400FF"/>
<polygon points="258.00,456.80 254.80,458.65 254.80,462.35 258.00,464.20 261.20,462.35 261.20,458.65" fill="#9400FF"/>
<polygon points="268.00,452.70 264.80,454.55 264.80,458.25 268.00,460.10 271.20,458.25 271.20,454.55" fill="#9400FF"/>
<polygon points="278.10,448.70 274.90,450.55 274.90,454.25 278.10,456.10 281.30,454.25 281.30,450.55" fill="#9400FF"/>
<polygon points="288.30,443.80 285.10,445.65 285.10,449.35 288.30,451.20 291.50,449.35 291.50,445.65" fill="#9400FF"/>
<polygon points="298.50,440.00 295.30,441.85 295.30,445.55 298.50,447.40 301.70,445.55 301.70,441.85" fill="#9400FF"/>
<polygon points="308.60,431.60 305.40,433.45 305.40,437.15 308.60,439.00 311.80,437.15 311.80,433.45" fill="#9400FF"/>
<circle cx="62.40" cy="343.50" r="3.4" fill="#4DB8FF"/>
<rect x="58.90" y="355.50" width="7.0" height="7.0" fill="#FF7F00"/>
<polygon points="62.40,370.90 59.20,372.75 59.20,376.45 62.40,378.30 65.60,376.45 65.60,372.75" fill="#9400FF"/>
<text x="80" y="347.6" font-size="12.5" font-weight="normal">BiTO-0<tspan font-style="italic">R</tspan></text>
<text x="80" y="363.1" font-size="12.5" font-weight="normal">BiTO-0.9<tspan font-style="italic">R</tspan></text>
<text x="80" y="378.6" font-size="12.5" font-weight="normal">BiTO-1.6<tspan font-style="italic">R</tspan></text>
<rect x="396" y="284" width="279" height="1" fill="#000" shape-rendering="crispEdges"/>
<rect x="396" y="486" width="279" height="1" fill="#000" shape-rendering="crispEdges"/>
<rect x="396" y="284" width="1" height="203" fill="#000" shape-rendering="crispEdges"/>
<rect x="674" y="284" width="1" height="203" fill="#000" shape-rendering="crispEdges"/>
<rect x="392" y="480" width="4" height="1" fill="#000" shape-rendering="crispEdges"/>
<text x="389.40" y="483.90" font-size="13.3" text-anchor="end" font-weight="bold" style="font-family:'Liberation Serif',serif">0</text>
<rect x="394" y="461" width="2" height="1" fill="#000" shape-rendering="crispEdges"/>
<rect x="392" y="442" width="4" height="1" fill="#000" shape-rendering="crispEdges"/>
<text x="389.40" y="445.90" font-size="13.3" text-anchor="end" font-weight="bold" style="font-family:'Liberation Serif',serif">20</text>
<rect x="394" y="423" width="2" height="1" fill="#000" shape-rendering="crispEdges"/>
<rect x="392" y="404" width="4" height="1" fill="#000" shape-rendering="crispEdges"/>
<text x="389.40" y="407.90" font-size="13.3" text-anchor="end" font-weight="bold" style="font-family:'Liberation Serif',serif">40</text>
<rect x="394" y="385" width="2" height="1" fill="#000" shape-rendering="crispEdges"/>
<rect x="392" y="366" width="4" height="1" fill="#000" shape-rendering="crispEdges"/>
<text x="389.40" y="369.90" font-size="13.3" text-anchor="end" font-weight="bold" style="font-family:'Liberation Serif',serif">60</text>
<rect x="394" y="347" width="2" height="1" fill="#000" shape-rendering="crispEdges"/>
<rect x="392" y="328" width="4" height="1" fill="#000" shape-rendering="crispEdges"/>
<text x="389.20" y="331.80" font-size="12" text-anchor="end" font-weight="bold" fill="#000" >80</text>
<rect x="394" y="309" width="2" height="1" fill="#000" shape-rendering="crispEdges"/>
<rect x="392" y="290" width="4" height="1" fill="#000" shape-rendering="crispEdges"/>
<text x="389.20" y="293.80" font-size="12" text-anchor="end" font-weight="bold" fill="#000" >100</text>
<rect x="396" y="487" width="1" height="4" fill="#000" shape-rendering="crispEdges"/>
<text x="396.50" y="503.20" font-size="12" text-anchor="middle" font-weight="bold" fill="#000" >200</text>
<rect x="419" y="487" width="1" height="2" fill="#000" shape-rendering="crispEdges"/>
<rect x="442" y="487" width="1" height="4" fill="#000" shape-rendering="crispEdges"/>
<text x="442.50" y="503.20" font-size="12" text-anchor="middle" font-weight="bold" fill="#000" >300</text>
<rect x="465" y="487" width="1" height="2" fill="#000" shape-rendering="crispEdges"/>
<rect x="489" y="487" width="1" height="4" fill="#000" shape-rendering="crispEdges"/>
<text x="489.50" y="503.20" font-size="12" text-anchor="middle" font-weight="bold" fill="#000" >400</text>
<rect x="512" y="487" width="1" height="2" fill="#000" shape-rendering="crispEdges"/>
<rect x="535" y="487" width="1" height="4" fill="#000" shape-rendering="crispEdges"/>
<text x="535.50" y="503.20" font-size="12" text-anchor="middle" font-weight="bold" fill="#000" >500</text>
<rect x="558" y="487" width="1" height="2" fill="#000" shape-rendering="crispEdges"/>
<rect x="581" y="487" width="1" height="4" fill="#000" shape-rendering="crispEdges"/>
<text x="581.50" y="503.20" font-size="12" text-anchor="middle" font-weight="bold" fill="#000" >600</text>
<rect x="604" y="487" width="1" height="2" fill="#000" shape-rendering="crispEdges"/>
<rect x="628" y="487" width="1" height="4" fill="#000" shape-rendering="crispEdges"/>
<text x="628.50" y="503.20" font-size="12" text-anchor="middle" font-weight="bold" fill="#000" >700</text>
<rect x="651" y="487" width="1" height="2" fill="#000" shape-rendering="crispEdges"/>
<rect x="674" y="487" width="1" height="4" fill="#000" shape-rendering="crispEdges"/>
<text x="674.50" y="503.20" font-size="12" text-anchor="middle" font-weight="bold" fill="#000" >800</text>
<path d="M396.50,479.60 C397.08,479.50 398.75,479.17 400.00,479.00 C401.25,478.83 402.50,478.60 404.00,478.60 C405.50,478.60 407.33,478.85 409.00,479.00 C410.67,479.15 412.17,479.38 414.00,479.50 C415.83,479.62 418.30,479.77 420.00,479.70 C421.70,479.63 422.70,479.67 424.20,479.10 C425.70,478.53 427.58,477.55 429.00,476.30 C430.42,475.05 431.45,473.65 432.70,471.60 C433.95,469.55 435.23,467.30 436.50,464.00 C437.77,460.70 439.05,456.67 440.30,451.80 C441.55,446.93 442.75,440.77 444.00,434.80 C445.25,428.83 446.53,422.58 447.80,416.00 C449.07,409.42 450.50,400.63 451.60,395.30 C452.70,389.97 453.32,388.45 454.40,384.00 C455.48,379.55 456.85,373.40 458.10,368.60 C459.35,363.80 460.63,359.57 461.90,355.20 C463.17,350.83 464.45,346.58 465.70,342.40 C466.95,338.22 468.15,334.03 469.40,330.10 C470.65,326.17 471.93,322.57 473.20,318.80 C474.47,315.03 476.05,310.17 477.00,307.50 C477.95,304.83 478.12,304.27 478.90,302.80 C479.68,301.33 480.77,299.95 481.70,298.70 C482.63,297.45 483.40,296.18 484.50,295.30 C485.60,294.42 486.88,293.80 488.30,293.40 C489.72,293.00 491.58,292.83 493.00,292.90 C494.42,292.97 495.55,293.25 496.80,293.80 C498.05,294.35 499.25,295.32 500.50,296.20 C501.75,297.08 502.88,298.00 504.30,299.10 C505.72,300.20 507.25,301.40 509.00,302.80 C510.75,304.20 513.03,306.20 514.80,307.50 C516.57,308.80 517.62,309.68 519.60,310.60 C521.58,311.52 524.32,312.40 526.70,313.00 C529.08,313.60 531.50,313.92 533.90,314.20 C536.30,314.48 538.70,314.73 541.10,314.70 C543.50,314.67 545.92,314.40 548.30,314.00 C550.68,313.60 553.02,312.98 555.40,312.30 C557.78,311.62 559.80,310.90 562.60,309.90 C565.40,308.90 569.02,307.42 572.20,306.30 C575.38,305.18 578.12,304.32 581.70,303.20 C585.28,302.08 589.72,300.75 593.70,299.60 C597.68,298.45 601.62,297.30 605.60,296.30 C609.58,295.30 613.60,294.32 617.60,293.60 C621.60,292.88 625.62,292.43 629.60,292.00 C633.58,291.57 637.52,291.20 641.50,291.00 C645.48,290.80 649.52,290.83 653.50,290.80 C657.48,290.77 661.90,290.73 665.40,290.80 C668.90,290.87 672.98,291.13 674.50,291.20" fill="none" stroke="#9400FF" stroke-width="1.45" stroke-linejoin="round"/>
<path d="M396.50,479.60 C397.08,479.50 398.75,479.17 400.00,479.00 C401.25,478.83 402.50,478.60 404.00,478.60 C405.50,478.60 407.33,478.85 409.00,479.00 C410.67,479.15 412.17,479.38 414.00,479.50 C415.83,479.62 417.33,479.65 420.00,479.70 C422.67,479.75 426.67,479.85 430.00,479.80 C433.33,479.75 437.35,479.67 440.00,479.40 C442.65,479.13 444.28,479.03 445.90,478.20 C447.52,477.37 448.60,475.98 449.70,474.40 C450.80,472.82 451.57,471.37 452.50,468.70 C453.43,466.03 454.52,462.17 455.30,458.40 C456.08,454.63 456.57,450.97 457.20,446.10 C457.83,441.23 458.47,435.47 459.10,429.20 C459.73,422.93 460.37,414.47 461.00,408.50 C461.63,402.53 462.37,397.48 462.90,393.40 C463.43,389.32 463.80,387.48 464.20,384.00 C464.60,380.52 464.90,375.67 465.30,372.50 C465.70,369.33 466.07,366.63 466.60,365.00 C467.13,363.37 467.87,362.87 468.50,362.70 C469.13,362.53 469.62,363.05 470.40,364.00 C471.18,364.95 472.17,367.30 473.20,368.40 C474.23,369.50 475.50,370.55 476.60,370.60 C477.70,370.65 478.80,369.80 479.80,368.70 C480.80,367.60 481.65,366.03 482.60,364.00 C483.55,361.97 484.55,359.32 485.50,356.50 C486.45,353.68 487.37,350.40 488.30,347.10 C489.23,343.80 490.17,340.32 491.10,336.70 C492.03,333.08 492.95,329.00 493.90,325.40 C494.85,321.80 495.85,318.38 496.80,315.10 C497.75,311.82 498.67,308.32 499.60,305.70 C500.53,303.08 501.47,300.92 502.40,299.40 C503.33,297.88 504.20,297.22 505.20,296.60 C506.20,295.98 507.38,295.60 508.40,295.70 C509.42,295.80 510.43,296.43 511.30,297.20 C512.17,297.97 512.62,298.58 513.60,300.30 C514.58,302.02 515.80,304.50 517.20,307.50 C518.60,310.50 520.42,314.92 522.00,318.30 C523.58,321.68 525.12,324.93 526.70,327.80 C528.28,330.67 529.90,333.30 531.50,335.50 C533.10,337.70 534.70,339.42 536.30,341.00 C537.90,342.58 539.30,343.82 541.10,345.00 C542.90,346.18 545.12,347.30 547.10,348.10 C549.08,348.90 551.02,349.43 553.00,349.80 C554.98,350.17 557.00,350.33 559.00,350.30 C561.00,350.27 562.80,350.08 565.00,349.60 C567.20,349.12 569.82,348.32 572.20,347.40 C574.58,346.48 576.92,345.37 579.30,344.10 C581.68,342.83 583.70,341.63 586.50,339.80 C589.30,337.97 592.92,335.50 596.10,333.10 C599.28,330.70 602.42,327.95 605.60,325.40 C608.78,322.85 612.00,320.27 615.20,317.80 C618.40,315.33 621.62,312.92 624.80,310.60 C627.98,308.28 631.12,305.82 634.30,303.90 C637.48,301.98 640.70,300.50 643.90,299.10 C647.10,297.70 650.32,296.45 653.50,295.50 C656.68,294.55 659.50,293.87 663.00,293.40 C666.50,292.93 672.58,292.82 674.50,292.70" fill="none" stroke="#FF7F00" stroke-width="1.45" stroke-linejoin="round"/>
<path d="M396.50,479.60 C397.08,479.50 398.75,479.17 400.00,479.00 C401.25,478.83 402.50,478.60 404.00,478.60 C405.50,478.60 407.33,478.85 409.00,479.00 C410.67,479.15 412.17,479.38 414.00,479.50 C415.83,479.62 417.33,479.63 420.00,479.70 C422.67,479.77 426.67,479.92 430.00,479.90 C433.33,479.88 437.20,479.80 440.00,479.60 C442.80,479.40 444.72,479.25 446.80,478.70 C448.88,478.15 450.92,477.48 452.50,476.30 C454.08,475.12 455.20,473.65 456.30,471.60 C457.40,469.55 458.17,467.62 459.10,464.00 C460.03,460.38 461.12,454.77 461.90,449.90 C462.68,445.03 463.17,440.13 463.80,434.80 C464.43,429.47 465.07,423.85 465.70,417.90 C466.33,411.95 466.98,404.75 467.60,399.10 C468.22,393.45 468.93,389.07 469.40,384.00 C469.87,378.93 470.02,373.75 470.40,368.70 C470.78,363.65 471.23,358.40 471.70,353.70 C472.17,349.00 472.63,344.12 473.20,340.50 C473.77,336.88 474.47,333.88 475.10,332.00 C475.73,330.12 476.37,329.67 477.00,329.20 C477.63,328.73 478.28,328.63 478.90,329.20 C479.52,329.77 479.92,330.87 480.70,332.60 C481.48,334.33 482.65,337.18 483.60,339.60 C484.55,342.02 485.47,344.75 486.40,347.10 C487.33,349.45 488.27,351.82 489.20,353.70 C490.13,355.58 490.90,356.98 492.00,358.40 C493.10,359.82 494.53,361.20 495.80,362.20 C497.07,363.20 498.18,363.87 499.60,364.40 C501.02,364.93 502.73,365.37 504.30,365.40 C505.87,365.43 507.58,365.05 509.00,364.60 C510.42,364.15 511.63,363.45 512.80,362.70 C513.97,361.95 514.47,361.73 516.00,360.10 C517.53,358.47 519.82,355.57 522.00,352.90 C524.18,350.23 526.72,347.08 529.10,344.10 C531.48,341.12 533.90,338.12 536.30,335.00 C538.70,331.88 541.10,328.58 543.50,325.40 C545.90,322.22 548.32,318.88 550.70,315.90 C553.08,312.92 555.42,309.98 557.80,307.50 C560.18,305.02 562.60,302.87 565.00,301.00 C567.40,299.13 569.82,297.53 572.20,296.30 C574.58,295.07 576.92,294.25 579.30,293.60 C581.68,292.95 584.10,292.52 586.50,292.40 C588.90,292.28 591.30,292.58 593.70,292.90 C596.10,293.22 598.52,293.67 600.90,294.30 C603.28,294.93 605.22,295.58 608.00,296.70 C610.78,297.82 614.00,299.28 617.60,301.00 C621.20,302.72 625.62,304.92 629.60,307.00 C633.58,309.08 637.52,311.50 641.50,313.50 C645.48,315.50 649.52,317.28 653.50,319.00 C657.48,320.72 661.90,322.42 665.40,323.80 C668.90,325.18 672.98,326.72 674.50,327.30" fill="none" stroke="#4DB8FF" stroke-width="1.45" stroke-linejoin="round"/>
<text x="535.40" y="517.30" font-size="12.35" text-anchor="middle" font-weight="bold" fill="#000" >Wavelength (nm)</text>
<text transform="translate(365.40,384.50) rotate(-90)" font-size="12.5" text-anchor="middle" font-weight="bold">Transmittance (%)</text>
<text x="358.30" y="277.90" font-size="14.8" text-anchor="start" font-weight="bold" fill="#000" >d</text>
<line x1="573.10" y1="356.90" x2="587.80" y2="356.90" stroke="#4DB8FF" stroke-width="1.4" />
<text x="597.9" y="360.7" font-size="12.7" font-weight="normal">BiTO-0<tspan font-style="italic">R</tspan></text>
<line x1="573.10" y1="372.70" x2="587.80" y2="372.70" stroke="#FF7F00" stroke-width="1.4" />
<text x="597.9" y="376.6" font-size="12.7" font-weight="normal">BiTO-0.9<tspan font-style="italic">R</tspan></text>
<line x1="573.10" y1="388.50" x2="587.80" y2="388.50" stroke="#9400FF" stroke-width="1.4" />
<text x="597.9" y="392.3" font-size="12.7" font-weight="normal">BiTO-1.6<tspan font-style="italic">R</tspan></text>
<svg x="499.2" y="399.2" width="74.0" height="76.7" viewBox="0 0 74 76.7" preserveAspectRatio="none">
<defs><filter id="lb1" x="-10%" y="-10%" width="120%" height="120%"><feGaussianBlur stdDeviation="0.42"/></filter><filter id="lt1" x="-10%" y="-10%" width="120%" height="120%"><feGaussianBlur stdDeviation="0.12"/></filter><linearGradient id="lg1" x1="0" y1="0" x2="0" y2="1"><stop offset="0" stop-color="#dfe3df"/><stop offset="1" stop-color="#cfd3d6"/></linearGradient><path id="arcL1" d="M9.30,30.00 A29.0,29.0 0 0 0 26.88,66.45"/><path id="arcR1" d="M56.76,60.24 A29.0,29.0 0 0 0 59.02,20.56"/><clipPath id="lc1"><rect x="17.4" y="21.4" width="38.8" height="38.3"/></clipPath></defs>
<rect x="0" y="0" width="74" height="76.7" fill="url(#lg1)"/>
<g filter="url(#lb1)">
<circle cx="36.8" cy="39.2" r="33.1" fill="none" stroke="#3f1c6b" stroke-width="2.8" stroke-dasharray="1.1 1.05" opacity="0.85"/>
<circle cx="36.8" cy="39.2" r="34.8" fill="none" stroke="#3f1c6b" stroke-width="0.7" opacity="0.9"/>
<circle cx="36.8" cy="39.2" r="31.4" fill="none" stroke="#3f1c6b" stroke-width="0.7" opacity="0.9"/>
<circle cx="36.8" cy="39.2" r="22.6" fill="none" stroke="#3f1c6b" stroke-width="0.7" opacity="0.4"/>
<g transform="translate(18.80,19.89) rotate(-43) scale(1.22)" stroke="#3f1c6b" stroke-width="1.15" fill="none"><path d="M-2.8,-2.2 H2.8 M-2.8,0 H2.8 M0,-3 V3 M-2.6,2.6 H2.6 M-2.6,-2.2 V2.6"/></g>
<g transform="translate(29.08,13.95) rotate(-17) scale(1.22)" stroke="#3f1c6b" stroke-width="1.15" fill="none"><path d="M-3,-0.8 H3 M0,-3 V-0.8 M0,-0.8 L-3,3 M0,-0.8 L3,3"/></g>
<g transform="translate(42.74,13.48) rotate(13) scale(1.22)" stroke="#3f1c6b" stroke-width="1.15" fill="none"><path d="M-2.8,-2.6 H2.8 V0.2 H-2.8 Z M-3,1.4 H3 M0,0.2 V3.2 M-1.6,-1.2 H1.6"/></g>
<g transform="translate(51.56,17.31) rotate(34) scale(1.22)" stroke="#3f1c6b" stroke-width="1.15" fill="none"><path d="M-2.6,-2.8 V3 M-1,-2.6 H3 M-1,-0.6 H3 M1,-2.6 V3 M-1,1.6 L3,3"/></g>
</g>
<g filter="url(#lt1)">
<text font-size="5.7" font-weight="bold" fill="#3f1c6b" letter-spacing="0"><textPath href="#arcL1" startOffset="0">TSINGHUA</textPath></text>
<text font-size="5.7" font-weight="bold" fill="#3f1c6b" letter-spacing="-0.05"><textPath href="#arcR1" startOffset="0">UNIVERSITY</textPath></text>
<circle cx="13.14" cy="26.62" r="0.75" fill="#3f1c6b"/>
<circle cx="60.33" cy="26.37" r="0.75" fill="#3f1c6b"/>
<text x="36.8" y="66.80" font-size="5.8" font-weight="bold" fill="#3f1c6b" text-anchor="middle" letter-spacing="0.35">-1911-</text>
</g>
<g clip-path="url(#lc1)">
<rect x="17.4" y="21.4" width="38.8" height="38.3" fill="#d2d0ce"/>
<g filter="url(#lb1)">
<circle cx="36.8" cy="39.2" r="22.6" fill="none" stroke="#b3a9a4" stroke-width="0.9"/>
<circle cx="36.8" cy="39.2" r="15.2" fill="none" stroke="#b3a9a4" stroke-width="11.2"/>
<line x1="45.30" y1="42.72" x2="56.39" y2="47.31" stroke="#d9d5d1" stroke-width="1.25"/>
<line x1="40.32" y1="47.70" x2="44.91" y2="58.79" stroke="#d9d5d1" stroke-width="1.25"/>
<line x1="33.28" y1="47.70" x2="28.69" y2="58.79" stroke="#d9d5d1" stroke-width="1.25"/>
<line x1="28.30" y1="42.72" x2="17.21" y2="47.31" stroke="#d9d5d1" stroke-width="1.25"/>
<line x1="28.30" y1="35.68" x2="17.21" y2="31.09" stroke="#d9d5d1" stroke-width="1.25"/>
<line x1="33.28" y1="30.70" x2="28.69" y2="19.61" stroke="#d9d5d1" stroke-width="1.25"/>
<line x1="40.32" y1="30.70" x2="44.91" y2="19.61" stroke="#d9d5d1" stroke-width="1.25"/>
<line x1="45.30" y1="35.68" x2="56.39" y2="31.09" stroke="#d9d5d1" stroke-width="1.25"/>
<g transform="translate(52.10,39.20) rotate(90)" stroke="#d9d5d1" stroke-width="0.85" fill="none"><path d="M-2.6,-2.8 H2.6 V2.6 H-2.6 Z M-2.6,-0.2 H2.6 M0,-2.8 V2.6"/></g>
<g transform="translate(47.62,50.02) rotate(135)" stroke="#d9d5d1" stroke-width="0.85" fill="none"><path d="M-2.6,-2.8 H2.6 V2.6 H-2.6 Z M-2.6,-0.2 H2.6 M0,-2.8 V2.6"/></g>
<g transform="translate(36.80,54.50) rotate(180)" stroke="#d9d5d1" stroke-width="0.85" fill="none"><path d="M-2.6,-2.8 H2.6 V2.6 H-2.6 Z M-2.6,-0.2 H2.6 M0,-2.8 V2.6"/></g>
<g transform="translate(25.98,50.02) rotate(225)" stroke="#d9d5d1" stroke-width="0.85" fill="none"><path d="M-2.6,-2.8 H2.6 V2.6 H-2.6 Z M-2.6,-0.2 H2.6 M0,-2.8 V2.6"/></g>
<g transform="translate(21.50,39.20) rotate(270)" stroke="#d9d5d1" stroke-width="0.85" fill="none"><path d="M-2.6,-2.8 H2.6 V2.6 H-2.6 Z M-2.6,-0.2 H2.6 M0,-2.8 V2.6"/></g>
<g transform="translate(25.98,28.38) rotate(315)" stroke="#d9d5d1" stroke-width="0.85" fill="none"><path d="M-2.6,-2.8 H2.6 V2.6 H-2.6 Z M-2.6,-0.2 H2.6 M0,-2.8 V2.6"/></g>
<g transform="translate(36.80,23.90) rotate(360)" stroke="#d9d5d1" stroke-width="0.85" fill="none"><path d="M-2.6,-2.8 H2.6 V2.6 H-2.6 Z M-2.6,-0.2 H2.6 M0,-2.8 V2.6"/></g>
<g transform="translate(47.62,28.38) rotate(405)" stroke="#d9d5d1" stroke-width="0.85" fill="none"><path d="M-2.6,-2.8 H2.6 V2.6 H-2.6 Z M-2.6,-0.2 H2.6 M0,-2.8 V2.6"/></g>
<circle cx="36.8" cy="39.2" r="8.8" fill="#d8d4d0"/>
<circle cx="36.8" cy="39.2" r="8.9" fill="none" stroke="#b3a9a4" stroke-width="0.5"/>
<polygon points="36.80,33.50 38.18,37.30 42.22,37.44 39.03,39.93 40.15,43.81 36.80,41.55 33.45,43.81 34.57,39.93 31.38,37.44 35.42,37.30" fill="#8b8176"/>
</g></g>
<rect x="17.4" y="21.4" width="38.8" height="38.3" fill="none" stroke="#ffff00" stroke-width="3.2"/>
</svg>
<svg x="587.2" y="399.2" width="74.0" height="76.7" viewBox="0 0 74 76.7" preserveAspectRatio="none">
<defs><filter id="lb2" x="-10%" y="-10%" width="120%" height="120%"><feGaussianBlur stdDeviation="0.42"/></filter><filter id="lt2" x="-10%" y="-10%" width="120%" height="120%"><feGaussianBlur stdDeviation="0.12"/></filter><linearGradient id="lg2" x1="0" y1="0" x2="0" y2="1"><stop offset="0" stop-color="#dfe3df"/><stop offset="1" stop-color="#cfd3d6"/></linearGradient><path id="arcL2" d="M9.30,30.00 A29.0,29.0 0 0 0 26.88,66.45"/><path id="arcR2" d="M56.76,60.24 A29.0,29.0 0 0 0 59.02,20.56"/><clipPath id="lc2"><rect x="17.4" y="20.6" width="38.8" height="36.6"/></clipPath></defs>
<rect x="0" y="0" width="74" height="76.7" fill="url(#lg2)"/>
<g filter="url(#lb2)">
<circle cx="36.8" cy="39.2" r="33.1" fill="none" stroke="#38235c" stroke-width="2.8" stroke-dasharray="1.1 1.05" opacity="0.85"/>
<circle cx="36.8" cy="39.2" r="34.8" fill="none" stroke="#38235c" stroke-width="0.7" opacity="0.9"/>
<circle cx="36.8" cy="39.2" r="31.4" fill="none" stroke="#38235c" stroke-width="0.7" opacity="0.9"/>
<circle cx="36.8" cy="39.2" r="22.6" fill="none" stroke="#38235c" stroke-width="0.7" opacity="0.4"/>
<g transform="translate(18.80,19.89) rotate(-43) scale(1.22)" stroke="#38235c" stroke-width="1.15" fill="none"><path d="M-2.8,-2.2 H2.8 M-2.8,0 H2.8 M0,-3 V3 M-2.6,2.6 H2.6 M-2.6,-2.2 V2.6"/></g>
<g transform="translate(29.08,13.95) rotate(-17) scale(1.22)" stroke="#38235c" stroke-width="1.15" fill="none"><path d="M-3,-0.8 H3 M0,-3 V-0.8 M0,-0.8 L-3,3 M0,-0.8 L3,3"/></g>
<g transform="translate(42.74,13.48) rotate(13) scale(1.22)" stroke="#38235c" stroke-width="1.15" fill="none"><path d="M-2.8,-2.6 H2.8 V0.2 H-2.8 Z M-3,1.4 H3 M0,0.2 V3.2 M-1.6,-1.2 H1.6"/></g>
<g transform="translate(51.56,17.31) rotate(34) scale(1.22)" stroke="#38235c" stroke-width="1.15" fill="none"><path d="M-2.6,-2.8 V3 M-1,-2.6 H3 M-1,-0.6 H3 M1,-2.6 V3 M-1,1.6 L3,3"/></g>
</g>
<g filter="url(#lt2)">
<text font-size="5.7" font-weight="bold" fill="#38235c" letter-spacing="0"><textPath href="#arcL2" startOffset="0">TSINGHUA</textPath></text>
<text font-size="5.7" font-weight="bold" fill="#38235c" letter-spacing="-0.05"><textPath href="#arcR2" startOffset="0">UNIVERSITY</textPath></text>
<circle cx="13.14" cy="26.62" r="0.75" fill="#38235c"/>
<circle cx="60.33" cy="26.37" r="0.75" fill="#38235c"/>
<text x="36.8" y="66.80" font-size="5.8" font-weight="bold" fill="#38235c" text-anchor="middle" letter-spacing="0.35">-1911-</text>
</g>
<g clip-path="url(#lc2)">
<rect x="17.4" y="20.6" width="38.8" height="36.6" fill="#cacad3"/>
<g filter="url(#lb2)">
<circle cx="36.8" cy="39.2" r="22.6" fill="none" stroke="#8a88a5" stroke-width="0.9"/>
<circle cx="36.8" cy="39.2" r="15.2" fill="none" stroke="#8a88a5" stroke-width="11.2"/>
<line x1="45.30" y1="42.72" x2="56.39" y2="47.31" stroke="#cdcdd9" stroke-width="1.25"/>
<line x1="40.32" y1="47.70" x2="44.91" y2="58.79" stroke="#cdcdd9" stroke-width="1.25"/>
<line x1="33.28" y1="47.70" x2="28.69" y2="58.79" stroke="#cdcdd9" stroke-width="1.25"/>
<line x1="28.30" y1="42.72" x2="17.21" y2="47.31" stroke="#cdcdd9" stroke-width="1.25"/>
<line x1="28.30" y1="35.68" x2="17.21" y2="31.09" stroke="#cdcdd9" stroke-width="1.25"/>
<line x1="33.28" y1="30.70" x2="28.69" y2="19.61" stroke="#cdcdd9" stroke-width="1.25"/>
<line x1="40.32" y1="30.70" x2="44.91" y2="19.61" stroke="#cdcdd9" stroke-width="1.25"/>
<line x1="45.30" y1="35.68" x2="56.39" y2="31.09" stroke="#cdcdd9" stroke-width="1.25"/>
<g transform="translate(52.10,39.20) rotate(90)" stroke="#cdcdd9" stroke-width="0.85" fill="none"><path d="M-2.6,-2.8 H2.6 V2.6 H-2.6 Z M-2.6,-0.2 H2.6 M0,-2.8 V2.6"/></g>
<g transform="translate(47.62,50.02) rotate(135)" stroke="#cdcdd9" stroke-width="0.85" fill="none"><path d="M-2.6,-2.8 H2.6 V2.6 H-2.6 Z M-2.6,-0.2 H2.6 M0,-2.8 V2.6"/></g>
<g transform="translate(36.80,54.50) rotate(180)" stroke="#cdcdd9" stroke-width="0.85" fill="none"><path d="M-2.6,-2.8 H2.6 V2.6 H-2.6 Z M-2.6,-0.2 H2.6 M0,-2.8 V2.6"/></g>
<g transform="translate(25.98,50.02) rotate(225)" stroke="#cdcdd9" stroke-width="0.85" fill="none"><path d="M-2.6,-2.8 H2.6 V2.6 H-2.6 Z M-2.6,-0.2 H2.6 M0,-2.8 V2.6"/></g>
<g transform="translate(21.50,39.20) rotate(270)" stroke="#cdcdd9" stroke-width="0.85" fill="none"><path d="M-2.6,-2.8 H2.6 V2.6 H-2.6 Z M-2.6,-0.2 H2.6 M0,-2.8 V2.6"/></g>
<g transform="translate(25.98,28.38) rotate(315)" stroke="#cdcdd9" stroke-width="0.85" fill="none"><path d="M-2.6,-2.8 H2.6 V2.6 H-2.6 Z M-2.6,-0.2 H2.6 M0,-2.8 V2.6"/></g>
<g transform="translate(36.80,23.90) rotate(360)" stroke="#cdcdd9" stroke-width="0.85" fill="none"><path d="M-2.6,-2.8 H2.6 V2.6 H-2.6 Z M-2.6,-0.2 H2.6 M0,-2.8 V2.6"/></g>
<g transform="translate(47.62,28.38) rotate(405)" stroke="#cdcdd9" stroke-width="0.85" fill="none"><path d="M-2.6,-2.8 H2.6 V2.6 H-2.6 Z M-2.6,-0.2 H2.6 M0,-2.8 V2.6"/></g>
<circle cx="36.8" cy="39.2" r="8.8" fill="#d1d1db"/>
<circle cx="36.8" cy="39.2" r="8.9" fill="none" stroke="#8a88a5" stroke-width="0.5"/>
<polygon points="36.80,33.50 38.18,37.30 42.22,37.44 39.03,39.93 40.15,43.81 36.80,41.55 33.45,43.81 34.57,39.93 31.38,37.44 35.42,37.30" fill="#595688"/>
</g></g>
<rect x="17.4" y="20.6" width="38.8" height="36.6" fill="none" stroke="#ffff00" stroke-width="3.2"/>
</svg>
</svg>
</body></html>
